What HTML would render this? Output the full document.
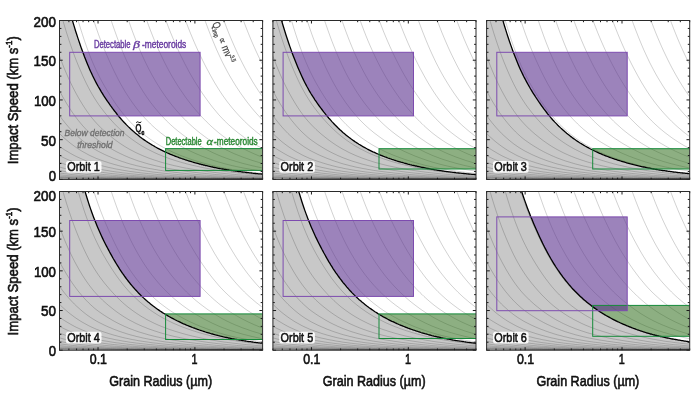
<!DOCTYPE html>
<html><head><meta charset="utf-8"><title>chart</title><style>html,body{margin:0;padding:0;background:#fff}body{width:700px;height:396px;overflow:hidden}</style></head>
<body>
<svg width="700" height="396" viewBox="0 0 700 396" style="display:block;opacity:0.999">
<defs><filter id="gl" x="-20%" y="-40%" width="140%" height="180%"><feGaussianBlur stdDeviation="0.7"/></filter></defs>
<rect width="700" height="396" fill="#fff"/>
<defs><path id="gls" d="M-1.0,-1.3 L1.0,-1.2 L3.0,-1.2 L5.0,-1.1 L7.0,-1.1 L9.0,-1.0 L11.0,-1.0 L13.0,-0.9 L15.0,-0.9 L17.0,-0.9 L19.0,-0.8 L21.0,-0.8 L23.0,-0.7 L25.0,-0.7 L27.0,-0.7 L29.0,-0.7 L31.0,-0.6 L33.0,-0.6 L35.0,-0.6 L37.0,-0.6 L39.0,-0.5 L41.0,-0.5 L43.0,-0.5 L45.0,-0.5 L47.0,-0.5 L49.0,-0.4 L51.0,-0.4 L53.0,-0.4 L55.0,-0.4 L57.0,-0.4 L59.0,-0.4 L61.0,-0.4 L63.0,-0.3 L65.0,-0.3 L67.0,-0.3 L69.0,-0.3 L71.0,-0.3 L73.0,-0.3 L75.0,-0.3 L77.0,-0.3 L79.0,-0.3 L81.0,-0.2 L83.0,-0.2 L85.0,-0.2 L87.0,-0.2 L89.0,-0.2 L91.0,-0.2 L93.0,-0.2 L95.0,-0.2 L97.0,-0.2 L99.0,-0.2 L101.0,-0.2 L103.0,-0.2 L105.0,-0.2 L107.0,-0.2 L109.0,-0.2 L111.0,-0.1 L113.0,-0.1 L115.0,-0.1 L117.0,-0.1 L119.0,-0.1 L121.0,-0.1 L123.0,-0.1 L125.0,-0.1 L127.0,-0.1 L129.0,-0.1 L131.0,-0.1 L133.0,-0.1 L135.0,-0.1 L137.0,-0.1 L139.0,-0.1 L141.0,-0.1 L143.0,-0.1 L145.0,-0.1 L147.0,-0.1 L149.0,-0.1 L151.0,-0.1 L153.0,-0.1 L155.0,-0.1 L157.0,-0.1 L159.0,-0.1 L161.0,-0.1 L163.0,-0.1 L165.0,-0.1 L167.0,-0.1 L169.0,-0.1 L171.0,-0.1 L173.0,-0.1 L175.0,-0.0 L177.0,-0.0 L179.0,-0.0 L181.0,-0.0 L183.0,-0.0 L185.0,-0.0 L187.0,-0.0 L189.0,-0.0 L191.0,-0.0 L193.0,-0.0 L195.0,-0.0 L197.0,-0.0 L199.0,-0.0 L201.0,-0.0 L203.0,-0.0 M-1.0,-1.7 L1.0,-1.7 L3.0,-1.6 L5.0,-1.5 L7.0,-1.5 L9.0,-1.4 L11.0,-1.3 L13.0,-1.3 L15.0,-1.2 L17.0,-1.2 L19.0,-1.1 L21.0,-1.1 L23.0,-1.0 L25.0,-1.0 L27.0,-1.0 L29.0,-0.9 L31.0,-0.9 L33.0,-0.8 L35.0,-0.8 L37.0,-0.8 L39.0,-0.8 L41.0,-0.7 L43.0,-0.7 L45.0,-0.7 L47.0,-0.6 L49.0,-0.6 L51.0,-0.6 L53.0,-0.6 L55.0,-0.6 L57.0,-0.5 L59.0,-0.5 L61.0,-0.5 L63.0,-0.5 L65.0,-0.5 L67.0,-0.4 L69.0,-0.4 L71.0,-0.4 L73.0,-0.4 L75.0,-0.4 L77.0,-0.4 L79.0,-0.4 L81.0,-0.3 L83.0,-0.3 L85.0,-0.3 L87.0,-0.3 L89.0,-0.3 L91.0,-0.3 L93.0,-0.3 L95.0,-0.3 L97.0,-0.3 L99.0,-0.3 L101.0,-0.2 L103.0,-0.2 L105.0,-0.2 L107.0,-0.2 L109.0,-0.2 L111.0,-0.2 L113.0,-0.2 L115.0,-0.2 L117.0,-0.2 L119.0,-0.2 L121.0,-0.2 L123.0,-0.2 L125.0,-0.2 L127.0,-0.2 L129.0,-0.2 L131.0,-0.1 L133.0,-0.1 L135.0,-0.1 L137.0,-0.1 L139.0,-0.1 L141.0,-0.1 L143.0,-0.1 L145.0,-0.1 L147.0,-0.1 L149.0,-0.1 L151.0,-0.1 L153.0,-0.1 L155.0,-0.1 L157.0,-0.1 L159.0,-0.1 L161.0,-0.1 L163.0,-0.1 L165.0,-0.1 L167.0,-0.1 L169.0,-0.1 L171.0,-0.1 L173.0,-0.1 L175.0,-0.1 L177.0,-0.1 L179.0,-0.1 L181.0,-0.1 L183.0,-0.1 L185.0,-0.1 L187.0,-0.1 L189.0,-0.1 L191.0,-0.1 L193.0,-0.1 L195.0,-0.0 L197.0,-0.0 L199.0,-0.0 L201.0,-0.0 L203.0,-0.0 M-1.0,-2.4 L1.0,-2.3 L3.0,-2.2 L5.0,-2.1 L7.0,-2.0 L9.0,-2.0 L11.0,-1.9 L13.0,-1.8 L15.0,-1.7 L17.0,-1.6 L19.0,-1.6 L21.0,-1.5 L23.0,-1.4 L25.0,-1.4 L27.0,-1.3 L29.0,-1.3 L31.0,-1.2 L33.0,-1.2 L35.0,-1.1 L37.0,-1.1 L39.0,-1.0 L41.0,-1.0 L43.0,-1.0 L45.0,-0.9 L47.0,-0.9 L49.0,-0.9 L51.0,-0.8 L53.0,-0.8 L55.0,-0.8 L57.0,-0.7 L59.0,-0.7 L61.0,-0.7 L63.0,-0.7 L65.0,-0.6 L67.0,-0.6 L69.0,-0.6 L71.0,-0.6 L73.0,-0.6 L75.0,-0.5 L77.0,-0.5 L79.0,-0.5 L81.0,-0.5 L83.0,-0.5 L85.0,-0.4 L87.0,-0.4 L89.0,-0.4 L91.0,-0.4 L93.0,-0.4 L95.0,-0.4 L97.0,-0.4 L99.0,-0.3 L101.0,-0.3 L103.0,-0.3 L105.0,-0.3 L107.0,-0.3 L109.0,-0.3 L111.0,-0.3 L113.0,-0.3 L115.0,-0.3 L117.0,-0.3 L119.0,-0.2 L121.0,-0.2 L123.0,-0.2 L125.0,-0.2 L127.0,-0.2 L129.0,-0.2 L131.0,-0.2 L133.0,-0.2 L135.0,-0.2 L137.0,-0.2 L139.0,-0.2 L141.0,-0.2 L143.0,-0.2 L145.0,-0.2 L147.0,-0.2 L149.0,-0.1 L151.0,-0.1 L153.0,-0.1 L155.0,-0.1 L157.0,-0.1 L159.0,-0.1 L161.0,-0.1 L163.0,-0.1 L165.0,-0.1 L167.0,-0.1 L169.0,-0.1 L171.0,-0.1 L173.0,-0.1 L175.0,-0.1 L177.0,-0.1 L179.0,-0.1 L181.0,-0.1 L183.0,-0.1 L185.0,-0.1 L187.0,-0.1 L189.0,-0.1 L191.0,-0.1 L193.0,-0.1 L195.0,-0.1 L197.0,-0.1 L199.0,-0.1 L201.0,-0.1 L203.0,-0.1 M-1.0,-3.4 L1.0,-3.2 L3.0,-3.1 L5.0,-3.0 L7.0,-2.8 L9.0,-2.7 L11.0,-2.6 L13.0,-2.5 L15.0,-2.4 L17.0,-2.3 L19.0,-2.2 L21.0,-2.1 L23.0,-2.0 L25.0,-1.9 L27.0,-1.8 L29.0,-1.8 L31.0,-1.7 L33.0,-1.6 L35.0,-1.6 L37.0,-1.5 L39.0,-1.5 L41.0,-1.4 L43.0,-1.3 L45.0,-1.3 L47.0,-1.2 L49.0,-1.2 L51.0,-1.2 L53.0,-1.1 L55.0,-1.1 L57.0,-1.0 L59.0,-1.0 L61.0,-1.0 L63.0,-0.9 L65.0,-0.9 L67.0,-0.9 L69.0,-0.8 L71.0,-0.8 L73.0,-0.8 L75.0,-0.7 L77.0,-0.7 L79.0,-0.7 L81.0,-0.7 L83.0,-0.6 L85.0,-0.6 L87.0,-0.6 L89.0,-0.6 L91.0,-0.6 L93.0,-0.5 L95.0,-0.5 L97.0,-0.5 L99.0,-0.5 L101.0,-0.5 L103.0,-0.5 L105.0,-0.4 L107.0,-0.4 L109.0,-0.4 L111.0,-0.4 L113.0,-0.4 L115.0,-0.4 L117.0,-0.4 L119.0,-0.3 L121.0,-0.3 L123.0,-0.3 L125.0,-0.3 L127.0,-0.3 L129.0,-0.3 L131.0,-0.3 L133.0,-0.3 L135.0,-0.3 L137.0,-0.3 L139.0,-0.2 L141.0,-0.2 L143.0,-0.2 L145.0,-0.2 L147.0,-0.2 L149.0,-0.2 L151.0,-0.2 L153.0,-0.2 L155.0,-0.2 L157.0,-0.2 L159.0,-0.2 L161.0,-0.2 L163.0,-0.2 L165.0,-0.2 L167.0,-0.2 L169.0,-0.1 L171.0,-0.1 L173.0,-0.1 L175.0,-0.1 L177.0,-0.1 L179.0,-0.1 L181.0,-0.1 L183.0,-0.1 L185.0,-0.1 L187.0,-0.1 L189.0,-0.1 L191.0,-0.1 L193.0,-0.1 L195.0,-0.1 L197.0,-0.1 L199.0,-0.1 L201.0,-0.1 L203.0,-0.1 M-1.0,-4.7 L1.0,-4.5 L3.0,-4.3 L5.0,-4.1 L7.0,-3.9 L9.0,-3.8 L11.0,-3.6 L13.0,-3.5 L15.0,-3.3 L17.0,-3.2 L19.0,-3.0 L21.0,-2.9 L23.0,-2.8 L25.0,-2.7 L27.0,-2.6 L29.0,-2.5 L31.0,-2.4 L33.0,-2.3 L35.0,-2.2 L37.0,-2.1 L39.0,-2.0 L41.0,-1.9 L43.0,-1.9 L45.0,-1.8 L47.0,-1.7 L49.0,-1.7 L51.0,-1.6 L53.0,-1.6 L55.0,-1.5 L57.0,-1.4 L59.0,-1.4 L61.0,-1.3 L63.0,-1.3 L65.0,-1.2 L67.0,-1.2 L69.0,-1.1 L71.0,-1.1 L73.0,-1.1 L75.0,-1.0 L77.0,-1.0 L79.0,-1.0 L81.0,-0.9 L83.0,-0.9 L85.0,-0.9 L87.0,-0.8 L89.0,-0.8 L91.0,-0.8 L93.0,-0.7 L95.0,-0.7 L97.0,-0.7 L99.0,-0.7 L101.0,-0.6 L103.0,-0.6 L105.0,-0.6 L107.0,-0.6 L109.0,-0.6 L111.0,-0.5 L113.0,-0.5 L115.0,-0.5 L117.0,-0.5 L119.0,-0.5 L121.0,-0.5 L123.0,-0.4 L125.0,-0.4 L127.0,-0.4 L129.0,-0.4 L131.0,-0.4 L133.0,-0.4 L135.0,-0.4 L137.0,-0.4 L139.0,-0.3 L141.0,-0.3 L143.0,-0.3 L145.0,-0.3 L147.0,-0.3 L149.0,-0.3 L151.0,-0.3 L153.0,-0.3 L155.0,-0.3 L157.0,-0.3 L159.0,-0.2 L161.0,-0.2 L163.0,-0.2 L165.0,-0.2 L167.0,-0.2 L169.0,-0.2 L171.0,-0.2 L173.0,-0.2 L175.0,-0.2 L177.0,-0.2 L179.0,-0.2 L181.0,-0.2 L183.0,-0.2 L185.0,-0.2 L187.0,-0.2 L189.0,-0.1 L191.0,-0.1 L193.0,-0.1 L195.0,-0.1 L197.0,-0.1 L199.0,-0.1 L201.0,-0.1 L203.0,-0.1 M-1.0,-6.5 L1.0,-6.2 L3.0,-6.0 L5.0,-5.7 L7.0,-5.5 L9.0,-5.2 L11.0,-5.0 L13.0,-4.8 L15.0,-4.6 L17.0,-4.4 L19.0,-4.2 L21.0,-4.1 L23.0,-3.9 L25.0,-3.7 L27.0,-3.6 L29.0,-3.4 L31.0,-3.3 L33.0,-3.1 L35.0,-3.0 L37.0,-2.9 L39.0,-2.8 L41.0,-2.7 L43.0,-2.6 L45.0,-2.5 L47.0,-2.4 L49.0,-2.3 L51.0,-2.2 L53.0,-2.2 L55.0,-2.1 L57.0,-2.0 L59.0,-1.9 L61.0,-1.9 L63.0,-1.8 L65.0,-1.7 L67.0,-1.7 L69.0,-1.6 L71.0,-1.5 L73.0,-1.5 L75.0,-1.4 L77.0,-1.4 L79.0,-1.3 L81.0,-1.3 L83.0,-1.2 L85.0,-1.2 L87.0,-1.1 L89.0,-1.1 L91.0,-1.1 L93.0,-1.0 L95.0,-1.0 L97.0,-1.0 L99.0,-0.9 L101.0,-0.9 L103.0,-0.9 L105.0,-0.8 L107.0,-0.8 L109.0,-0.8 L111.0,-0.8 L113.0,-0.7 L115.0,-0.7 L117.0,-0.7 L119.0,-0.7 L121.0,-0.6 L123.0,-0.6 L125.0,-0.6 L127.0,-0.6 L129.0,-0.6 L131.0,-0.5 L133.0,-0.5 L135.0,-0.5 L137.0,-0.5 L139.0,-0.5 L141.0,-0.5 L143.0,-0.4 L145.0,-0.4 L147.0,-0.4 L149.0,-0.4 L151.0,-0.4 L153.0,-0.4 L155.0,-0.4 L157.0,-0.3 L159.0,-0.3 L161.0,-0.3 L163.0,-0.3 L165.0,-0.3 L167.0,-0.3 L169.0,-0.3 L171.0,-0.3 L173.0,-0.3 L175.0,-0.3 L177.0,-0.2 L179.0,-0.2 L181.0,-0.2 L183.0,-0.2 L185.0,-0.2 L187.0,-0.2 L189.0,-0.2 L191.0,-0.2 L193.0,-0.2 L195.0,-0.2 L197.0,-0.2 L199.0,-0.2 L201.0,-0.2 L203.0,-0.2 M-1.0,-9.1 L1.0,-8.7 L3.0,-8.3 L5.0,-7.9 L7.0,-7.6 L9.0,-7.3 L11.0,-7.0 L13.0,-6.7 L15.0,-6.4 L17.0,-6.1 L19.0,-5.9 L21.0,-5.6 L23.0,-5.4 L25.0,-5.2 L27.0,-5.0 L29.0,-4.7 L31.0,-4.6 L33.0,-4.4 L35.0,-4.2 L37.0,-4.0 L39.0,-3.9 L41.0,-3.7 L43.0,-3.6 L45.0,-3.5 L47.0,-3.3 L49.0,-3.2 L51.0,-3.1 L53.0,-3.0 L55.0,-2.9 L57.0,-2.8 L59.0,-2.7 L61.0,-2.6 L63.0,-2.5 L65.0,-2.4 L67.0,-2.3 L69.0,-2.2 L71.0,-2.1 L73.0,-2.1 L75.0,-2.0 L77.0,-1.9 L79.0,-1.8 L81.0,-1.8 L83.0,-1.7 L85.0,-1.7 L87.0,-1.6 L89.0,-1.5 L91.0,-1.5 L93.0,-1.4 L95.0,-1.4 L97.0,-1.3 L99.0,-1.3 L101.0,-1.3 L103.0,-1.2 L105.0,-1.2 L107.0,-1.1 L109.0,-1.1 L111.0,-1.1 L113.0,-1.0 L115.0,-1.0 L117.0,-1.0 L119.0,-0.9 L121.0,-0.9 L123.0,-0.9 L125.0,-0.8 L127.0,-0.8 L129.0,-0.8 L131.0,-0.8 L133.0,-0.7 L135.0,-0.7 L137.0,-0.7 L139.0,-0.7 L141.0,-0.6 L143.0,-0.6 L145.0,-0.6 L147.0,-0.6 L149.0,-0.6 L151.0,-0.5 L153.0,-0.5 L155.0,-0.5 L157.0,-0.5 L159.0,-0.5 L161.0,-0.5 L163.0,-0.4 L165.0,-0.4 L167.0,-0.4 L169.0,-0.4 L171.0,-0.4 L173.0,-0.4 L175.0,-0.4 L177.0,-0.3 L179.0,-0.3 L181.0,-0.3 L183.0,-0.3 L185.0,-0.3 L187.0,-0.3 L189.0,-0.3 L191.0,-0.3 L193.0,-0.3 L195.0,-0.3 L197.0,-0.2 L199.0,-0.2 L201.0,-0.2 L203.0,-0.2 M-1.0,-12.6 L1.0,-12.1 L3.0,-11.5 L5.0,-11.0 L7.0,-10.6 L9.0,-10.1 L11.0,-9.7 L13.0,-9.3 L15.0,-8.9 L17.0,-8.5 L19.0,-8.2 L21.0,-7.8 L23.0,-7.5 L25.0,-7.2 L27.0,-6.9 L29.0,-6.6 L31.0,-6.3 L33.0,-6.1 L35.0,-5.8 L37.0,-5.6 L39.0,-5.4 L41.0,-5.2 L43.0,-5.0 L45.0,-4.8 L47.0,-4.7 L49.0,-4.5 L51.0,-4.3 L53.0,-4.2 L55.0,-4.0 L57.0,-3.9 L59.0,-3.7 L61.0,-3.6 L63.0,-3.4 L65.0,-3.3 L67.0,-3.2 L69.0,-3.1 L71.0,-3.0 L73.0,-2.9 L75.0,-2.8 L77.0,-2.7 L79.0,-2.6 L81.0,-2.5 L83.0,-2.4 L85.0,-2.3 L87.0,-2.2 L89.0,-2.1 L91.0,-2.1 L93.0,-2.0 L95.0,-1.9 L97.0,-1.9 L99.0,-1.8 L101.0,-1.7 L103.0,-1.7 L105.0,-1.6 L107.0,-1.6 L109.0,-1.5 L111.0,-1.5 L113.0,-1.4 L115.0,-1.4 L117.0,-1.3 L119.0,-1.3 L121.0,-1.2 L123.0,-1.2 L125.0,-1.2 L127.0,-1.1 L129.0,-1.1 L131.0,-1.1 L133.0,-1.0 L135.0,-1.0 L137.0,-1.0 L139.0,-0.9 L141.0,-0.9 L143.0,-0.9 L145.0,-0.8 L147.0,-0.8 L149.0,-0.8 L151.0,-0.7 L153.0,-0.7 L155.0,-0.7 L157.0,-0.7 L159.0,-0.7 L161.0,-0.6 L163.0,-0.6 L165.0,-0.6 L167.0,-0.6 L169.0,-0.5 L171.0,-0.5 L173.0,-0.5 L175.0,-0.5 L177.0,-0.5 L179.0,-0.5 L181.0,-0.4 L183.0,-0.4 L185.0,-0.4 L187.0,-0.4 L189.0,-0.4 L191.0,-0.4 L193.0,-0.4 L195.0,-0.4 L197.0,-0.3 L199.0,-0.3 L201.0,-0.3 L203.0,-0.3 M-1.0,-17.5 L1.0,-16.7 L3.0,-16.0 L5.0,-15.3 L7.0,-14.7 L9.0,-14.1 L11.0,-13.5 L13.0,-12.9 L15.0,-12.4 L17.0,-11.8 L19.0,-11.3 L21.0,-10.9 L23.0,-10.4 L25.0,-10.0 L27.0,-9.6 L29.0,-9.2 L31.0,-8.8 L33.0,-8.4 L35.0,-8.1 L37.0,-7.8 L39.0,-7.5 L41.0,-7.2 L43.0,-7.0 L45.0,-6.7 L47.0,-6.5 L49.0,-6.2 L51.0,-6.0 L53.0,-5.8 L55.0,-5.6 L57.0,-5.4 L59.0,-5.2 L61.0,-5.0 L63.0,-4.8 L65.0,-4.6 L67.0,-4.4 L69.0,-4.3 L71.0,-4.1 L73.0,-4.0 L75.0,-3.8 L77.0,-3.7 L79.0,-3.6 L81.0,-3.4 L83.0,-3.3 L85.0,-3.2 L87.0,-3.1 L89.0,-3.0 L91.0,-2.9 L93.0,-2.8 L95.0,-2.7 L97.0,-2.6 L99.0,-2.5 L101.0,-2.4 L103.0,-2.3 L105.0,-2.3 L107.0,-2.2 L109.0,-2.1 L111.0,-2.0 L113.0,-2.0 L115.0,-1.9 L117.0,-1.8 L119.0,-1.8 L121.0,-1.7 L123.0,-1.7 L125.0,-1.6 L127.0,-1.6 L129.0,-1.5 L131.0,-1.5 L133.0,-1.4 L135.0,-1.4 L137.0,-1.3 L139.0,-1.3 L141.0,-1.2 L143.0,-1.2 L145.0,-1.2 L147.0,-1.1 L149.0,-1.1 L151.0,-1.0 L153.0,-1.0 L155.0,-1.0 L157.0,-0.9 L159.0,-0.9 L161.0,-0.9 L163.0,-0.8 L165.0,-0.8 L167.0,-0.8 L169.0,-0.8 L171.0,-0.7 L173.0,-0.7 L175.0,-0.7 L177.0,-0.7 L179.0,-0.6 L181.0,-0.6 L183.0,-0.6 L185.0,-0.6 L187.0,-0.6 L189.0,-0.5 L191.0,-0.5 L193.0,-0.5 L195.0,-0.5 L197.0,-0.5 L199.0,-0.5 L201.0,-0.4 L203.0,-0.4 M-1.0,-24.3 L1.0,-23.3 L3.0,-22.3 L5.0,-21.3 L7.0,-20.4 L9.0,-19.5 L11.0,-18.7 L13.0,-17.9 L15.0,-17.2 L17.0,-16.4 L19.0,-15.8 L21.0,-15.1 L23.0,-14.5 L25.0,-13.9 L27.0,-13.3 L29.0,-12.7 L31.0,-12.2 L33.0,-11.7 L35.0,-11.3 L37.0,-10.8 L39.0,-10.4 L41.0,-10.1 L43.0,-9.7 L45.0,-9.3 L47.0,-9.0 L49.0,-8.7 L51.0,-8.3 L53.0,-8.0 L55.0,-7.7 L57.0,-7.4 L59.0,-7.2 L61.0,-6.9 L63.0,-6.6 L65.0,-6.4 L67.0,-6.2 L69.0,-5.9 L71.0,-5.7 L73.0,-5.5 L75.0,-5.3 L77.0,-5.1 L79.0,-4.9 L81.0,-4.8 L83.0,-4.6 L85.0,-4.4 L87.0,-4.3 L89.0,-4.1 L91.0,-4.0 L93.0,-3.9 L95.0,-3.7 L97.0,-3.6 L99.0,-3.5 L101.0,-3.4 L103.0,-3.3 L105.0,-3.1 L107.0,-3.0 L109.0,-2.9 L111.0,-2.8 L113.0,-2.7 L115.0,-2.7 L117.0,-2.6 L119.0,-2.5 L121.0,-2.4 L123.0,-2.3 L125.0,-2.2 L127.0,-2.2 L129.0,-2.1 L131.0,-2.0 L133.0,-2.0 L135.0,-1.9 L137.0,-1.8 L139.0,-1.8 L141.0,-1.7 L143.0,-1.7 L145.0,-1.6 L147.0,-1.5 L149.0,-1.5 L151.0,-1.4 L153.0,-1.4 L155.0,-1.3 L157.0,-1.3 L159.0,-1.3 L161.0,-1.2 L163.0,-1.2 L165.0,-1.1 L167.0,-1.1 L169.0,-1.1 L171.0,-1.0 L173.0,-1.0 L175.0,-1.0 L177.0,-0.9 L179.0,-0.9 L181.0,-0.9 L183.0,-0.8 L185.0,-0.8 L187.0,-0.8 L189.0,-0.8 L191.0,-0.7 L193.0,-0.7 L195.0,-0.7 L197.0,-0.7 L199.0,-0.6 L201.0,-0.6 L203.0,-0.6 M-1.0,-33.8 L1.0,-32.3 L3.0,-30.9 L5.0,-29.6 L7.0,-28.4 L9.0,-27.2 L11.0,-26.0 L13.0,-24.9 L15.0,-23.8 L17.0,-22.8 L19.0,-21.9 L21.0,-21.0 L23.0,-20.1 L25.0,-19.3 L27.0,-18.5 L29.0,-17.7 L31.0,-17.0 L33.0,-16.3 L35.0,-15.7 L37.0,-15.1 L39.0,-14.5 L41.0,-14.0 L43.0,-13.5 L45.0,-13.0 L47.0,-12.5 L49.0,-12.0 L51.0,-11.6 L53.0,-11.2 L55.0,-10.7 L57.0,-10.3 L59.0,-10.0 L61.0,-9.6 L63.0,-9.2 L65.0,-8.9 L67.0,-8.6 L69.0,-8.2 L71.0,-7.9 L73.0,-7.7 L75.0,-7.4 L77.0,-7.1 L79.0,-6.9 L81.0,-6.6 L83.0,-6.4 L85.0,-6.2 L87.0,-6.0 L89.0,-5.7 L91.0,-5.6 L93.0,-5.4 L95.0,-5.2 L97.0,-5.0 L99.0,-4.8 L101.0,-4.7 L103.0,-4.5 L105.0,-4.4 L107.0,-4.2 L109.0,-4.1 L111.0,-3.9 L113.0,-3.8 L115.0,-3.7 L117.0,-3.6 L119.0,-3.4 L121.0,-3.3 L123.0,-3.2 L125.0,-3.1 L127.0,-3.0 L129.0,-2.9 L131.0,-2.8 L133.0,-2.7 L135.0,-2.6 L137.0,-2.6 L139.0,-2.5 L141.0,-2.4 L143.0,-2.3 L145.0,-2.2 L147.0,-2.2 L149.0,-2.1 L151.0,-2.0 L153.0,-1.9 L155.0,-1.9 L157.0,-1.8 L159.0,-1.7 L161.0,-1.7 L163.0,-1.6 L165.0,-1.6 L167.0,-1.5 L169.0,-1.5 L171.0,-1.4 L173.0,-1.4 L175.0,-1.3 L177.0,-1.3 L179.0,-1.2 L181.0,-1.2 L183.0,-1.2 L185.0,-1.1 L187.0,-1.1 L189.0,-1.0 L191.0,-1.0 L193.0,-1.0 L195.0,-0.9 L197.0,-0.9 L199.0,-0.9 L201.0,-0.9 L203.0,-0.8 M-1.0,-46.9 L1.0,-44.9 L3.0,-43.0 L5.0,-41.2 L7.0,-39.4 L9.0,-37.7 L11.0,-36.1 L13.0,-34.6 L15.0,-33.1 L17.0,-31.7 L19.0,-30.4 L21.0,-29.1 L23.0,-27.9 L25.0,-26.8 L27.0,-25.7 L29.0,-24.6 L31.0,-23.6 L33.0,-22.7 L35.0,-21.8 L37.0,-20.9 L39.0,-20.2 L41.0,-19.4 L43.0,-18.7 L45.0,-18.0 L47.0,-17.4 L49.0,-16.7 L51.0,-16.1 L53.0,-15.5 L55.0,-14.9 L57.0,-14.4 L59.0,-13.8 L61.0,-13.3 L63.0,-12.8 L65.0,-12.3 L67.0,-11.9 L69.0,-11.5 L71.0,-11.0 L73.0,-10.6 L75.0,-10.3 L77.0,-9.9 L79.0,-9.5 L81.0,-9.2 L83.0,-8.9 L85.0,-8.6 L87.0,-8.3 L89.0,-8.0 L91.0,-7.7 L93.0,-7.4 L95.0,-7.2 L97.0,-7.0 L99.0,-6.7 L101.0,-6.5 L103.0,-6.3 L105.0,-6.1 L107.0,-5.9 L109.0,-5.7 L111.0,-5.5 L113.0,-5.3 L115.0,-5.1 L117.0,-5.0 L119.0,-4.8 L121.0,-4.6 L123.0,-4.5 L125.0,-4.3 L127.0,-4.2 L129.0,-4.1 L131.0,-3.9 L133.0,-3.8 L135.0,-3.7 L137.0,-3.5 L139.0,-3.4 L141.0,-3.3 L143.0,-3.2 L145.0,-3.1 L147.0,-3.0 L149.0,-2.9 L151.0,-2.8 L153.0,-2.7 L155.0,-2.6 L157.0,-2.5 L159.0,-2.4 L161.0,-2.3 L163.0,-2.3 L165.0,-2.2 L167.0,-2.1 L169.0,-2.0 L171.0,-2.0 L173.0,-1.9 L175.0,-1.8 L177.0,-1.8 L179.0,-1.7 L181.0,-1.7 L183.0,-1.6 L185.0,-1.6 L187.0,-1.5 L189.0,-1.5 L191.0,-1.4 L193.0,-1.4 L195.0,-1.3 L197.0,-1.3 L199.0,-1.2 L201.0,-1.2 L203.0,-1.1 M-1.0,-65.2 L1.0,-62.4 L3.0,-59.8 L5.0,-57.2 L7.0,-54.8 L9.0,-52.4 L11.0,-50.2 L13.0,-48.1 L15.0,-46.0 L17.0,-44.1 L19.0,-42.3 L21.0,-40.5 L23.0,-38.8 L25.0,-37.2 L27.0,-35.6 L29.0,-34.2 L31.0,-32.8 L33.0,-31.5 L35.0,-30.3 L37.0,-29.1 L39.0,-28.0 L41.0,-27.0 L43.0,-26.0 L45.0,-25.0 L47.0,-24.1 L49.0,-23.2 L51.0,-22.4 L53.0,-21.5 L55.0,-20.7 L57.0,-20.0 L59.0,-19.2 L61.0,-18.5 L63.0,-17.8 L65.0,-17.2 L67.0,-16.5 L69.0,-15.9 L71.0,-15.3 L73.0,-14.8 L75.0,-14.3 L77.0,-13.7 L79.0,-13.3 L81.0,-12.8 L83.0,-12.3 L85.0,-11.9 L87.0,-11.5 L89.0,-11.1 L91.0,-10.7 L93.0,-10.4 L95.0,-10.0 L97.0,-9.7 L99.0,-9.3 L101.0,-9.0 L103.0,-8.7 L105.0,-8.4 L107.0,-8.1 L109.0,-7.9 L111.0,-7.6 L113.0,-7.4 L115.0,-7.1 L117.0,-6.9 L119.0,-6.7 L121.0,-6.4 L123.0,-6.2 L125.0,-6.0 L127.0,-5.8 L129.0,-5.6 L131.0,-5.4 L133.0,-5.3 L135.0,-5.1 L137.0,-4.9 L139.0,-4.8 L141.0,-4.6 L143.0,-4.4 L145.0,-4.3 L147.0,-4.2 L149.0,-4.0 L151.0,-3.9 L153.0,-3.7 L155.0,-3.6 L157.0,-3.5 L159.0,-3.4 L161.0,-3.3 L163.0,-3.1 L165.0,-3.0 L167.0,-2.9 L169.0,-2.8 L171.0,-2.7 L173.0,-2.7 L175.0,-2.6 L177.0,-2.5 L179.0,-2.4 L181.0,-2.3 L183.0,-2.2 L185.0,-2.2 L187.0,-2.1 L189.0,-2.0 L191.0,-2.0 L193.0,-1.9 L195.0,-1.8 L197.0,-1.8 L199.0,-1.7 L201.0,-1.7 L203.0,-1.6 M-1.0,-90.6 L1.0,-86.7 L3.0,-83.0 L5.0,-79.5 L7.0,-76.1 L9.0,-72.9 L11.0,-69.8 L13.0,-66.8 L15.0,-64.0 L17.0,-61.3 L19.0,-58.7 L21.0,-56.3 L23.0,-53.9 L25.0,-51.7 L27.0,-49.5 L29.0,-47.5 L31.0,-45.6 L33.0,-43.8 L35.0,-42.0 L37.0,-40.4 L39.0,-38.9 L41.0,-37.5 L43.0,-36.1 L45.0,-34.8 L47.0,-33.5 L49.0,-32.3 L51.0,-31.1 L53.0,-29.9 L55.0,-28.8 L57.0,-27.7 L59.0,-26.7 L61.0,-25.7 L63.0,-24.8 L65.0,-23.8 L67.0,-23.0 L69.0,-22.1 L71.0,-21.3 L73.0,-20.6 L75.0,-19.8 L77.0,-19.1 L79.0,-18.4 L81.0,-17.8 L83.0,-17.2 L85.0,-16.6 L87.0,-16.0 L89.0,-15.4 L91.0,-14.9 L93.0,-14.4 L95.0,-13.9 L97.0,-13.4 L99.0,-13.0 L101.0,-12.5 L103.0,-12.1 L105.0,-11.7 L107.0,-11.3 L109.0,-10.9 L111.0,-10.6 L113.0,-10.2 L115.0,-9.9 L117.0,-9.6 L119.0,-9.3 L121.0,-8.9 L123.0,-8.7 L125.0,-8.4 L127.0,-8.1 L129.0,-7.8 L131.0,-7.6 L133.0,-7.3 L135.0,-7.1 L137.0,-6.8 L139.0,-6.6 L141.0,-6.4 L143.0,-6.2 L145.0,-6.0 L147.0,-5.8 L149.0,-5.6 L151.0,-5.4 L153.0,-5.2 L155.0,-5.0 L157.0,-4.8 L159.0,-4.7 L161.0,-4.5 L163.0,-4.4 L165.0,-4.2 L167.0,-4.1 L169.0,-3.9 L171.0,-3.8 L173.0,-3.7 L175.0,-3.6 L177.0,-3.4 L179.0,-3.3 L181.0,-3.2 L183.0,-3.1 L185.0,-3.0 L187.0,-2.9 L189.0,-2.8 L191.0,-2.7 L193.0,-2.6 L195.0,-2.5 L197.0,-2.5 L199.0,-2.4 L201.0,-2.3 L203.0,-2.2 M-1.0,-125.9 L1.0,-120.5 L3.0,-115.4 L5.0,-110.4 L7.0,-105.7 L9.0,-101.2 L11.0,-96.9 L13.0,-92.8 L15.0,-88.9 L17.0,-85.2 L19.0,-81.6 L21.0,-78.2 L23.0,-74.9 L25.0,-71.8 L27.0,-68.8 L29.0,-66.0 L31.0,-63.3 L33.0,-60.8 L35.0,-58.4 L37.0,-56.2 L39.0,-54.1 L41.0,-52.1 L43.0,-50.1 L45.0,-48.3 L47.0,-46.5 L49.0,-44.8 L51.0,-43.2 L53.0,-41.6 L55.0,-40.0 L57.0,-38.5 L59.0,-37.1 L61.0,-35.7 L63.0,-34.4 L65.0,-33.1 L67.0,-31.9 L69.0,-30.7 L71.0,-29.6 L73.0,-28.6 L75.0,-27.5 L77.0,-26.5 L79.0,-25.6 L81.0,-24.7 L83.0,-23.8 L85.0,-23.0 L87.0,-22.2 L89.0,-21.4 L91.0,-20.7 L93.0,-20.0 L95.0,-19.3 L97.0,-18.7 L99.0,-18.0 L101.0,-17.4 L103.0,-16.8 L105.0,-16.3 L107.0,-15.7 L109.0,-15.2 L111.0,-14.7 L113.0,-14.2 L115.0,-13.7 L117.0,-13.3 L119.0,-12.9 L121.0,-12.4 L123.0,-12.0 L125.0,-11.6 L127.0,-11.2 L129.0,-10.9 L131.0,-10.5 L133.0,-10.2 L135.0,-9.8 L137.0,-9.5 L139.0,-9.2 L141.0,-8.9 L143.0,-8.6 L145.0,-8.3 L147.0,-8.0 L149.0,-7.7 L151.0,-7.5 L153.0,-7.2 L155.0,-7.0 L157.0,-6.7 L159.0,-6.5 L161.0,-6.3 L163.0,-6.1 L165.0,-5.9 L167.0,-5.7 L169.0,-5.5 L171.0,-5.3 L173.0,-5.1 L175.0,-5.0 L177.0,-4.8 L179.0,-4.6 L181.0,-4.5 L183.0,-4.3 L185.0,-4.2 L187.0,-4.0 L189.0,-3.9 L191.0,-3.8 L193.0,-3.7 L195.0,-3.5 L197.0,-3.4 L199.0,-3.3 L201.0,-3.2 L203.0,-3.1 M1.0,-167.4 L3.0,-160.3 L5.0,-153.5 L7.0,-146.9 L9.0,-140.7 L11.0,-134.7 L13.0,-129.0 L15.0,-123.5 L17.0,-118.3 L19.0,-113.4 L21.0,-108.7 L23.0,-104.1 L25.0,-99.8 L27.0,-95.6 L29.0,-91.7 L31.0,-88.0 L33.0,-84.5 L35.0,-81.2 L37.0,-78.1 L39.0,-75.1 L41.0,-72.3 L43.0,-69.7 L45.0,-67.1 L47.0,-64.7 L49.0,-62.3 L51.0,-60.0 L53.0,-57.8 L55.0,-55.6 L57.0,-53.6 L59.0,-51.6 L61.0,-49.6 L63.0,-47.8 L65.0,-46.0 L67.0,-44.3 L69.0,-42.7 L71.0,-41.2 L73.0,-39.7 L75.0,-38.3 L77.0,-36.9 L79.0,-35.6 L81.0,-34.3 L83.0,-33.1 L85.0,-32.0 L87.0,-30.8 L89.0,-29.8 L91.0,-28.8 L93.0,-27.8 L95.0,-26.8 L97.0,-25.9 L99.0,-25.0 L101.0,-24.2 L103.0,-23.4 L105.0,-22.6 L107.0,-21.9 L109.0,-21.1 L111.0,-20.4 L113.0,-19.8 L115.0,-19.1 L117.0,-18.5 L119.0,-17.9 L121.0,-17.3 L123.0,-16.7 L125.0,-16.2 L127.0,-15.6 L129.0,-15.1 L131.0,-14.6 L133.0,-14.1 L135.0,-13.7 L137.0,-13.2 L139.0,-12.8 L141.0,-12.3 L143.0,-11.9 L145.0,-11.5 L147.0,-11.1 L149.0,-10.8 L151.0,-10.4 L153.0,-10.0 L155.0,-9.7 L157.0,-9.4 L159.0,-9.0 L161.0,-8.7 L163.0,-8.4 L165.0,-8.1 L167.0,-7.9 L169.0,-7.6 L171.0,-7.4 L173.0,-7.1 L175.0,-6.9 L177.0,-6.7 L179.0,-6.4 L181.0,-6.2 L183.0,-6.0 L185.0,-5.8 L187.0,-5.6 L189.0,-5.4 L191.0,-5.3 L193.0,-5.1 L195.0,-4.9 L197.0,-4.7 L199.0,-4.6 L201.0,-4.4 L203.0,-4.3 M17.0,-164.4 L19.0,-157.6 L21.0,-151.0 L23.0,-144.7 L25.0,-138.6 L27.0,-132.9 L29.0,-127.4 L31.0,-122.3 L33.0,-117.4 L35.0,-112.8 L37.0,-108.5 L39.0,-104.4 L41.0,-100.5 L43.0,-96.8 L45.0,-93.3 L47.0,-89.9 L49.0,-86.6 L51.0,-83.4 L53.0,-80.3 L55.0,-77.3 L57.0,-74.4 L59.0,-71.6 L61.0,-69.0 L63.0,-66.4 L65.0,-63.9 L67.0,-61.6 L69.0,-59.3 L71.0,-57.2 L73.0,-55.1 L75.0,-53.2 L77.0,-51.3 L79.0,-49.4 L81.0,-47.7 L83.0,-46.0 L85.0,-44.4 L87.0,-42.9 L89.0,-41.4 L91.0,-40.0 L93.0,-38.6 L95.0,-37.3 L97.0,-36.0 L99.0,-34.8 L101.0,-33.6 L103.0,-32.5 L105.0,-31.4 L107.0,-30.4 L109.0,-29.4 L111.0,-28.4 L113.0,-27.4 L115.0,-26.5 L117.0,-25.7 L119.0,-24.8 L121.0,-24.0 L123.0,-23.2 L125.0,-22.5 L127.0,-21.7 L129.0,-21.0 L131.0,-20.3 L133.0,-19.6 L135.0,-19.0 L137.0,-18.4 L139.0,-17.7 L141.0,-17.2 L143.0,-16.6 L145.0,-16.0 L147.0,-15.5 L149.0,-15.0 L151.0,-14.4 L153.0,-13.9 L155.0,-13.5 L157.0,-13.0 L159.0,-12.6 L161.0,-12.1 L163.0,-11.7 L165.0,-11.3 L167.0,-10.9 L169.0,-10.6 L171.0,-10.2 L173.0,-9.9 L175.0,-9.6 L177.0,-9.2 L179.0,-8.9 L181.0,-8.6 L183.0,-8.4 L185.0,-8.1 L187.0,-7.8 L189.0,-7.5 L191.0,-7.3 L193.0,-7.1 L195.0,-6.8 L197.0,-6.6 L199.0,-6.4 L201.0,-6.2 L203.0,-6.0 M31.0,-169.9 L33.0,-163.1 L35.0,-156.7 L37.0,-150.7 L39.0,-145.0 L41.0,-139.6 L43.0,-134.5 L45.0,-129.6 L47.0,-124.9 L49.0,-120.3 L51.0,-115.9 L53.0,-111.6 L55.0,-107.4 L57.0,-103.4 L59.0,-99.5 L61.0,-95.8 L63.0,-92.3 L65.0,-88.8 L67.0,-85.6 L69.0,-82.5 L71.0,-79.5 L73.0,-76.6 L75.0,-73.9 L77.0,-71.2 L79.0,-68.7 L81.0,-66.3 L83.0,-63.9 L85.0,-61.7 L87.0,-59.5 L89.0,-57.5 L91.0,-55.5 L93.0,-53.6 L95.0,-51.8 L97.0,-50.0 L99.0,-48.4 L101.0,-46.7 L103.0,-45.2 L105.0,-43.7 L107.0,-42.2 L109.0,-40.8 L111.0,-39.4 L113.0,-38.1 L115.0,-36.9 L117.0,-35.7 L119.0,-34.5 L121.0,-33.4 L123.0,-32.3 L125.0,-31.2 L127.0,-30.2 L129.0,-29.2 L131.0,-28.2 L133.0,-27.3 L135.0,-26.4 L137.0,-25.5 L139.0,-24.7 L141.0,-23.8 L143.0,-23.0 L145.0,-22.3 L147.0,-21.5 L149.0,-20.8 L151.0,-20.1 L153.0,-19.4 L155.0,-18.7 L157.0,-18.1 L159.0,-17.4 L161.0,-16.9 L163.0,-16.3 L165.0,-15.7 L167.0,-15.2 L169.0,-14.7 L171.0,-14.2 L173.0,-13.7 L175.0,-13.3 L177.0,-12.8 L179.0,-12.4 L181.0,-12.0 L183.0,-11.6 L185.0,-11.2 L187.0,-10.9 L189.0,-10.5 L191.0,-10.1 L193.0,-9.8 L195.0,-9.5 L197.0,-9.2 L199.0,-8.9 L201.0,-8.6 L203.0,-8.3 M49.0,-167.2 L51.0,-161.0 L53.0,-155.0 L55.0,-149.3 L57.0,-143.7 L59.0,-138.3 L61.0,-133.2 L63.0,-128.2 L65.0,-123.4 L67.0,-118.9 L69.0,-114.6 L71.0,-110.4 L73.0,-106.4 L75.0,-102.6 L77.0,-99.0 L79.0,-95.4 L81.0,-92.1 L83.0,-88.8 L85.0,-85.7 L87.0,-82.7 L89.0,-79.9 L91.0,-77.1 L93.0,-74.5 L95.0,-72.0 L97.0,-69.5 L99.0,-67.2 L101.0,-64.9 L103.0,-62.8 L105.0,-60.7 L107.0,-58.6 L109.0,-56.7 L111.0,-54.8 L113.0,-53.0 L115.0,-51.2 L117.0,-49.6 L119.0,-47.9 L121.0,-46.4 L123.0,-44.8 L125.0,-43.4 L127.0,-41.9 L129.0,-40.5 L131.0,-39.2 L133.0,-37.9 L135.0,-36.6 L137.0,-35.4 L139.0,-34.3 L141.0,-33.1 L143.0,-32.0 L145.0,-30.9 L147.0,-29.9 L149.0,-28.9 L151.0,-27.9 L153.0,-26.9 L155.0,-26.0 L157.0,-25.1 L159.0,-24.2 L161.0,-23.4 L163.0,-22.6 L165.0,-21.9 L167.0,-21.1 L169.0,-20.4 L171.0,-19.7 L173.0,-19.1 L175.0,-18.5 L177.0,-17.8 L179.0,-17.3 L181.0,-16.7 L183.0,-16.1 L185.0,-15.6 L187.0,-15.1 L189.0,-14.6 L191.0,-14.1 L193.0,-13.6 L195.0,-13.2 L197.0,-12.7 L199.0,-12.3 L201.0,-11.9 L203.0,-11.5 M67.0,-165.2 L69.0,-159.2 L71.0,-153.4 L73.0,-147.9 L75.0,-142.6 L77.0,-137.5 L79.0,-132.6 L81.0,-127.9 L83.0,-123.4 L85.0,-119.1 L87.0,-115.0 L89.0,-111.0 L91.0,-107.2 L93.0,-103.5 L95.0,-100.0 L97.0,-96.6 L99.0,-93.4 L101.0,-90.2 L103.0,-87.2 L105.0,-84.3 L107.0,-81.5 L109.0,-78.8 L111.0,-76.1 L113.0,-73.6 L115.0,-71.2 L117.0,-68.9 L119.0,-66.6 L121.0,-64.4 L123.0,-62.3 L125.0,-60.2 L127.0,-58.2 L129.0,-56.3 L131.0,-54.5 L133.0,-52.7 L135.0,-50.9 L137.0,-49.2 L139.0,-47.6 L141.0,-46.0 L143.0,-44.5 L145.0,-43.0 L147.0,-41.5 L149.0,-40.1 L151.0,-38.8 L153.0,-37.4 L155.0,-36.1 L157.0,-34.9 L159.0,-33.7 L161.0,-32.5 L163.0,-31.4 L165.0,-30.4 L167.0,-29.3 L169.0,-28.4 L171.0,-27.4 L173.0,-26.5 L175.0,-25.6 L177.0,-24.8 L179.0,-24.0 L181.0,-23.2 L183.0,-22.4 L185.0,-21.7 L187.0,-21.0 L189.0,-20.3 L191.0,-19.6 L193.0,-18.9 L195.0,-18.3 L197.0,-17.7 L199.0,-17.1 L201.0,-16.5 L203.0,-16.0 M85.0,-165.5 L87.0,-159.7 L89.0,-154.2 L91.0,-148.9 L93.0,-143.8 L95.0,-138.9 L97.0,-134.2 L99.0,-129.7 L101.0,-125.4 L103.0,-121.2 L105.0,-117.1 L107.0,-113.2 L109.0,-109.4 L111.0,-105.8 L113.0,-102.3 L115.0,-98.9 L117.0,-95.7 L119.0,-92.5 L121.0,-89.5 L123.0,-86.6 L125.0,-83.7 L127.0,-80.9 L129.0,-78.3 L131.0,-75.7 L133.0,-73.2 L135.0,-70.8 L137.0,-68.4 L139.0,-66.2 L141.0,-64.0 L143.0,-61.8 L145.0,-59.7 L147.0,-57.7 L149.0,-55.8 L151.0,-53.8 L153.0,-52.0 L155.0,-50.2 L157.0,-48.5 L159.0,-46.8 L161.0,-45.2 L163.0,-43.7 L165.0,-42.2 L167.0,-40.8 L169.0,-39.4 L171.0,-38.1 L173.0,-36.8 L175.0,-35.6 L177.0,-34.5 L179.0,-33.3 L181.0,-32.2 L183.0,-31.1 L185.0,-30.1 L187.0,-29.1 L189.0,-28.1 L191.0,-27.2 L193.0,-26.3 L195.0,-25.4 L197.0,-24.6 L199.0,-23.7 L201.0,-23.0 L203.0,-22.2 M103.0,-168.4 L105.0,-162.7 L107.0,-157.3 L109.0,-152.1 L111.0,-147.0 L113.0,-142.2 L115.0,-137.5 L117.0,-133.0 L119.0,-128.6 L121.0,-124.4 L123.0,-120.3 L125.0,-116.3 L127.0,-112.5 L129.0,-108.7 L131.0,-105.1 L133.0,-101.7 L135.0,-98.3 L137.0,-95.1 L139.0,-91.9 L141.0,-88.9 L143.0,-85.9 L145.0,-83.0 L147.0,-80.2 L149.0,-77.5 L151.0,-74.8 L153.0,-72.2 L155.0,-69.8 L157.0,-67.4 L159.0,-65.0 L161.0,-62.8 L163.0,-60.7 L165.0,-58.6 L167.0,-56.7 L169.0,-54.8 L171.0,-53.0 L173.0,-51.2 L175.0,-49.5 L177.0,-47.9 L179.0,-46.3 L181.0,-44.8 L183.0,-43.3 L185.0,-41.8 L187.0,-40.4 L189.0,-39.1 L191.0,-37.8 L193.0,-36.5 L195.0,-35.3 L197.0,-34.1 L199.0,-33.0 L201.0,-31.9 L203.0,-30.8 M123.0,-167.1 L125.0,-161.6 L127.0,-156.3 L129.0,-151.1 L131.0,-146.1 L133.0,-141.3 L135.0,-136.6 L137.0,-132.1 L139.0,-127.7 L141.0,-123.5 L143.0,-119.3 L145.0,-115.3 L147.0,-111.4 L149.0,-107.7 L151.0,-104.0 L153.0,-100.4 L155.0,-96.9 L157.0,-93.6 L159.0,-90.4 L161.0,-87.3 L163.0,-84.3 L165.0,-81.5 L167.0,-78.7 L169.0,-76.1 L171.0,-73.6 L173.0,-71.1 L175.0,-68.8 L177.0,-66.5 L179.0,-64.3 L181.0,-62.2 L183.0,-60.1 L185.0,-58.1 L187.0,-56.2 L189.0,-54.3 L191.0,-52.5 L193.0,-50.8 L195.0,-49.1 L197.0,-47.4 L199.0,-45.9 L201.0,-44.3 L203.0,-42.8 M143.0,-165.8 L145.0,-160.3 L147.0,-154.9 L149.0,-149.6 L151.0,-144.5 L153.0,-139.5 L155.0,-134.7 L157.0,-130.0 L159.0,-125.6 L161.0,-121.3 L163.0,-117.1 L165.0,-113.2 L167.0,-109.4 L169.0,-105.7 L171.0,-102.2 L173.0,-98.9 L175.0,-95.6 L177.0,-92.4 L179.0,-89.4 L181.0,-86.4 L183.0,-83.6 L185.0,-80.8 L187.0,-78.1 L189.0,-75.5 L191.0,-73.0 L193.0,-70.5 L195.0,-68.2 L197.0,-65.9 L199.0,-63.7 L201.0,-61.6 L203.0,-59.5 M161.0,-168.5 L163.0,-162.8 L165.0,-157.3 L167.0,-152.0 L169.0,-146.9 L171.0,-142.1 L173.0,-137.4 L175.0,-132.8 L177.0,-128.4 L179.0,-124.2 L181.0,-120.1 L183.0,-116.1 L185.0,-112.2 L187.0,-108.5 L189.0,-104.9 L191.0,-101.4 L193.0,-98.0 L195.0,-94.7 L197.0,-91.6 L199.0,-88.5 L201.0,-85.6 L203.0,-82.7 M181.0,-166.9 L183.0,-161.3 L185.0,-156.0 L187.0,-150.8 L189.0,-145.8 L191.0,-140.9 L193.0,-136.2 L195.0,-131.7 L197.0,-127.3 L199.0,-123.0 L201.0,-118.9 L203.0,-114.9 M201.0,-165.2 L203.0,-159.7" fill="none" stroke="#000" stroke-opacity="0.3" stroke-width="0.6"/></defs>
<clipPath id="c1"><rect x="59.5" y="20.5" width="203.1" height="158.9"/></clipPath>
<clipPath id="a1"><path d="M58.5,-35.8 L59.5,-31.2 L60.5,-26.6 L61.5,-22.2 L62.5,-17.8 L63.5,-13.6 L64.5,-9.4 L65.5,-5.3 L66.5,-1.3 L67.5,2.6 L68.5,6.4 L69.5,10.1 L70.5,13.7 L71.5,17.3 L72.5,20.7 L73.5,24.1 L74.5,27.4 L75.5,30.7 L76.5,33.8 L77.5,36.9 L78.5,39.9 L79.5,42.8 L80.5,45.7 L81.5,48.6 L82.5,51.3 L83.5,54.0 L84.5,56.7 L85.5,59.2 L86.5,61.7 L87.5,64.2 L88.5,66.6 L89.5,68.9 L90.5,71.2 L91.5,73.3 L92.5,75.5 L93.5,77.5 L94.5,79.5 L95.5,81.5 L96.5,83.4 L97.5,85.2 L98.5,87.0 L99.5,88.7 L100.5,90.4 L101.5,92.1 L102.5,93.7 L103.5,95.3 L104.5,96.8 L105.5,98.3 L106.5,99.8 L107.5,101.3 L108.5,102.7 L109.5,104.2 L110.5,105.6 L111.5,106.9 L112.5,108.3 L113.5,109.6 L114.5,111.0 L115.5,112.2 L116.5,113.5 L117.5,114.8 L118.5,116.0 L119.5,117.2 L120.5,118.3 L121.5,119.5 L122.5,120.6 L123.5,121.7 L124.5,122.8 L125.5,123.8 L126.5,124.9 L127.5,125.9 L128.5,126.9 L129.5,127.8 L130.5,128.8 L131.5,129.7 L132.5,130.6 L133.5,131.5 L134.5,132.3 L135.5,133.2 L136.5,134.0 L137.5,134.8 L138.5,135.6 L139.5,136.4 L140.5,137.2 L141.5,137.9 L142.5,138.7 L143.5,139.4 L144.5,140.1 L145.5,140.8 L146.5,141.5 L147.5,142.1 L148.5,142.8 L149.5,143.4 L150.5,144.0 L151.5,144.6 L152.5,145.2 L153.5,145.8 L154.5,146.4 L155.5,147.0 L156.5,147.5 L157.5,148.1 L158.5,148.6 L159.5,149.1 L160.5,149.6 L161.5,150.1 L162.5,150.6 L163.5,151.1 L164.5,151.6 L165.5,152.1 L166.5,152.5 L167.5,153.0 L168.5,153.4 L169.5,153.8 L170.5,154.3 L171.5,154.7 L172.5,155.1 L173.5,155.5 L174.5,155.9 L175.5,156.3 L176.5,156.7 L177.5,157.0 L178.5,157.4 L179.5,157.8 L180.5,158.1 L181.5,158.5 L182.5,158.8 L183.5,159.2 L184.5,159.5 L185.5,159.9 L186.5,160.2 L187.5,160.5 L188.5,160.8 L189.5,161.1 L190.5,161.4 L191.5,161.7 L192.5,162.0 L193.5,162.3 L194.5,162.6 L195.5,162.9 L196.5,163.1 L197.5,163.4 L198.5,163.7 L199.5,164.0 L200.5,164.2 L201.5,164.5 L202.5,164.7 L203.5,165.0 L204.5,165.2 L205.5,165.5 L206.5,165.7 L207.5,165.9 L208.5,166.2 L209.5,166.4 L210.5,166.6 L211.5,166.8 L212.5,167.0 L213.5,167.3 L214.5,167.5 L215.5,167.7 L216.5,167.9 L217.5,168.1 L218.5,168.3 L219.5,168.5 L220.5,168.7 L221.5,168.8 L222.5,169.0 L223.5,169.2 L224.5,169.4 L225.5,169.5 L226.5,169.7 L227.5,169.9 L228.5,170.0 L229.5,170.2 L230.5,170.3 L231.5,170.5 L232.5,170.6 L233.5,170.8 L234.5,170.9 L235.5,171.1 L236.5,171.2 L237.5,171.4 L238.5,171.5 L239.5,171.6 L240.5,171.7 L241.5,171.9 L242.5,172.0 L243.5,172.1 L244.5,172.2 L245.5,172.4 L246.5,172.5 L247.5,172.6 L248.5,172.7 L249.5,172.8 L250.5,172.9 L251.5,173.0 L252.5,173.2 L253.5,173.3 L254.5,173.4 L255.5,173.5 L256.5,173.6 L257.5,173.7 L258.5,173.8 L259.5,173.9 L260.5,173.9 L261.5,174.0 L262.5,174.1 L263.5,174.2 L264.6,-429.5 Z"/></clipPath>
<g clip-path="url(#c1)">
<use href="#gls" transform="translate(59.5,179.4)"/>
<path d="M58.5,-35.8 L59.5,-31.2 L60.5,-26.6 L61.5,-22.2 L62.5,-17.8 L63.5,-13.6 L64.5,-9.4 L65.5,-5.3 L66.5,-1.3 L67.5,2.6 L68.5,6.4 L69.5,10.1 L70.5,13.7 L71.5,17.3 L72.5,20.7 L73.5,24.1 L74.5,27.4 L75.5,30.7 L76.5,33.8 L77.5,36.9 L78.5,39.9 L79.5,42.8 L80.5,45.7 L81.5,48.6 L82.5,51.3 L83.5,54.0 L84.5,56.7 L85.5,59.2 L86.5,61.7 L87.5,64.2 L88.5,66.6 L89.5,68.9 L90.5,71.2 L91.5,73.3 L92.5,75.5 L93.5,77.5 L94.5,79.5 L95.5,81.5 L96.5,83.4 L97.5,85.2 L98.5,87.0 L99.5,88.7 L100.5,90.4 L101.5,92.1 L102.5,93.7 L103.5,95.3 L104.5,96.8 L105.5,98.3 L106.5,99.8 L107.5,101.3 L108.5,102.7 L109.5,104.2 L110.5,105.6 L111.5,106.9 L112.5,108.3 L113.5,109.6 L114.5,111.0 L115.5,112.2 L116.5,113.5 L117.5,114.8 L118.5,116.0 L119.5,117.2 L120.5,118.3 L121.5,119.5 L122.5,120.6 L123.5,121.7 L124.5,122.8 L125.5,123.8 L126.5,124.9 L127.5,125.9 L128.5,126.9 L129.5,127.8 L130.5,128.8 L131.5,129.7 L132.5,130.6 L133.5,131.5 L134.5,132.3 L135.5,133.2 L136.5,134.0 L137.5,134.8 L138.5,135.6 L139.5,136.4 L140.5,137.2 L141.5,137.9 L142.5,138.7 L143.5,139.4 L144.5,140.1 L145.5,140.8 L146.5,141.5 L147.5,142.1 L148.5,142.8 L149.5,143.4 L150.5,144.0 L151.5,144.6 L152.5,145.2 L153.5,145.8 L154.5,146.4 L155.5,147.0 L156.5,147.5 L157.5,148.1 L158.5,148.6 L159.5,149.1 L160.5,149.6 L161.5,150.1 L162.5,150.6 L163.5,151.1 L164.5,151.6 L165.5,152.1 L166.5,152.5 L167.5,153.0 L168.5,153.4 L169.5,153.8 L170.5,154.3 L171.5,154.7 L172.5,155.1 L173.5,155.5 L174.5,155.9 L175.5,156.3 L176.5,156.7 L177.5,157.0 L178.5,157.4 L179.5,157.8 L180.5,158.1 L181.5,158.5 L182.5,158.8 L183.5,159.2 L184.5,159.5 L185.5,159.9 L186.5,160.2 L187.5,160.5 L188.5,160.8 L189.5,161.1 L190.5,161.4 L191.5,161.7 L192.5,162.0 L193.5,162.3 L194.5,162.6 L195.5,162.9 L196.5,163.1 L197.5,163.4 L198.5,163.7 L199.5,164.0 L200.5,164.2 L201.5,164.5 L202.5,164.7 L203.5,165.0 L204.5,165.2 L205.5,165.5 L206.5,165.7 L207.5,165.9 L208.5,166.2 L209.5,166.4 L210.5,166.6 L211.5,166.8 L212.5,167.0 L213.5,167.3 L214.5,167.5 L215.5,167.7 L216.5,167.9 L217.5,168.1 L218.5,168.3 L219.5,168.5 L220.5,168.7 L221.5,168.8 L222.5,169.0 L223.5,169.2 L224.5,169.4 L225.5,169.5 L226.5,169.7 L227.5,169.9 L228.5,170.0 L229.5,170.2 L230.5,170.3 L231.5,170.5 L232.5,170.6 L233.5,170.8 L234.5,170.9 L235.5,171.1 L236.5,171.2 L237.5,171.4 L238.5,171.5 L239.5,171.6 L240.5,171.7 L241.5,171.9 L242.5,172.0 L243.5,172.1 L244.5,172.2 L245.5,172.4 L246.5,172.5 L247.5,172.6 L248.5,172.7 L249.5,172.8 L250.5,172.9 L251.5,173.0 L252.5,173.2 L253.5,173.3 L254.5,173.4 L255.5,173.5 L256.5,173.6 L257.5,173.7 L258.5,173.8 L259.5,173.9 L260.5,173.9 L261.5,174.0 L262.5,174.1 L263.5,174.2 L264.6,184.4 L57.5,184.4 L57.5,-429.5 Z" fill="#000" fill-opacity="0.215"/>
<g clip-path="url(#a1)">
<rect x="165.6" y="148.6" width="100.0" height="21.8" fill="rgb(27,95,5)" fill-opacity="0.5"/>
<rect x="69.7" y="52.3" width="130.4" height="63.6" fill="rgb(90,48,142)" fill-opacity="0.6"/>
</g>
<path d="M58.5,-35.8 L59.5,-31.2 L60.5,-26.6 L61.5,-22.2 L62.5,-17.8 L63.5,-13.6 L64.5,-9.4 L65.5,-5.3 L66.5,-1.3 L67.5,2.6 L68.5,6.4 L69.5,10.1 L70.5,13.7 L71.5,17.3 L72.5,20.7 L73.5,24.1 L74.5,27.4 L75.5,30.7 L76.5,33.8 L77.5,36.9 L78.5,39.9 L79.5,42.8 L80.5,45.7 L81.5,48.6 L82.5,51.3 L83.5,54.0 L84.5,56.7 L85.5,59.2 L86.5,61.7 L87.5,64.2 L88.5,66.6 L89.5,68.9 L90.5,71.2 L91.5,73.3 L92.5,75.5 L93.5,77.5 L94.5,79.5 L95.5,81.5 L96.5,83.4 L97.5,85.2 L98.5,87.0 L99.5,88.7 L100.5,90.4 L101.5,92.1 L102.5,93.7 L103.5,95.3 L104.5,96.8 L105.5,98.3 L106.5,99.8 L107.5,101.3 L108.5,102.7 L109.5,104.2 L110.5,105.6 L111.5,106.9 L112.5,108.3 L113.5,109.6 L114.5,111.0 L115.5,112.2 L116.5,113.5 L117.5,114.8 L118.5,116.0 L119.5,117.2 L120.5,118.3 L121.5,119.5 L122.5,120.6 L123.5,121.7 L124.5,122.8 L125.5,123.8 L126.5,124.9 L127.5,125.9 L128.5,126.9 L129.5,127.8 L130.5,128.8 L131.5,129.7 L132.5,130.6 L133.5,131.5 L134.5,132.3 L135.5,133.2 L136.5,134.0 L137.5,134.8 L138.5,135.6 L139.5,136.4 L140.5,137.2 L141.5,137.9 L142.5,138.7 L143.5,139.4 L144.5,140.1 L145.5,140.8 L146.5,141.5 L147.5,142.1 L148.5,142.8 L149.5,143.4 L150.5,144.0 L151.5,144.6 L152.5,145.2 L153.5,145.8 L154.5,146.4 L155.5,147.0 L156.5,147.5 L157.5,148.1 L158.5,148.6 L159.5,149.1 L160.5,149.6 L161.5,150.1 L162.5,150.6 L163.5,151.1 L164.5,151.6 L165.5,152.1 L166.5,152.5 L167.5,153.0 L168.5,153.4 L169.5,153.8 L170.5,154.3 L171.5,154.7 L172.5,155.1 L173.5,155.5 L174.5,155.9 L175.5,156.3 L176.5,156.7 L177.5,157.0 L178.5,157.4 L179.5,157.8 L180.5,158.1 L181.5,158.5 L182.5,158.8 L183.5,159.2 L184.5,159.5 L185.5,159.9 L186.5,160.2 L187.5,160.5 L188.5,160.8 L189.5,161.1 L190.5,161.4 L191.5,161.7 L192.5,162.0 L193.5,162.3 L194.5,162.6 L195.5,162.9 L196.5,163.1 L197.5,163.4 L198.5,163.7 L199.5,164.0 L200.5,164.2 L201.5,164.5 L202.5,164.7 L203.5,165.0 L204.5,165.2 L205.5,165.5 L206.5,165.7 L207.5,165.9 L208.5,166.2 L209.5,166.4 L210.5,166.6 L211.5,166.8 L212.5,167.0 L213.5,167.3 L214.5,167.5 L215.5,167.7 L216.5,167.9 L217.5,168.1 L218.5,168.3 L219.5,168.5 L220.5,168.7 L221.5,168.8 L222.5,169.0 L223.5,169.2 L224.5,169.4 L225.5,169.5 L226.5,169.7 L227.5,169.9 L228.5,170.0 L229.5,170.2 L230.5,170.3 L231.5,170.5 L232.5,170.6 L233.5,170.8 L234.5,170.9 L235.5,171.1 L236.5,171.2 L237.5,171.4 L238.5,171.5 L239.5,171.6 L240.5,171.7 L241.5,171.9 L242.5,172.0 L243.5,172.1 L244.5,172.2 L245.5,172.4 L246.5,172.5 L247.5,172.6 L248.5,172.7 L249.5,172.8 L250.5,172.9 L251.5,173.0 L252.5,173.2 L253.5,173.3 L254.5,173.4 L255.5,173.5 L256.5,173.6 L257.5,173.7 L258.5,173.8 L259.5,173.9 L260.5,173.9 L261.5,174.0 L262.5,174.1 L263.5,174.2" fill="none" stroke="#000" stroke-width="1.3"/>
<rect x="165.6" y="148.6" width="100.0" height="21.8" fill="none" stroke="rgb(22,138,58)" stroke-width="1"/>
<rect x="69.7" y="52.3" width="130.4" height="63.6" fill="none" stroke="rgb(125,75,175)" stroke-width="1"/>
</g>
<path d="M59.5,179.40h3.2 M262.6,179.40h-3.2 M59.5,171.46h1.9 M262.6,171.46h-1.9 M59.5,163.51h1.9 M262.6,163.51h-1.9 M59.5,155.56h1.9 M262.6,155.56h-1.9 M59.5,147.62h1.9 M262.6,147.62h-1.9 M59.5,139.68h3.2 M262.6,139.68h-3.2 M59.5,131.73h1.9 M262.6,131.73h-1.9 M59.5,123.78h1.9 M262.6,123.78h-1.9 M59.5,115.84h1.9 M262.6,115.84h-1.9 M59.5,107.90h1.9 M262.6,107.90h-1.9 M59.5,99.95h3.2 M262.6,99.95h-3.2 M59.5,92.01h1.9 M262.6,92.01h-1.9 M59.5,84.06h1.9 M262.6,84.06h-1.9 M59.5,76.12h1.9 M262.6,76.12h-1.9 M59.5,68.17h1.9 M262.6,68.17h-1.9 M59.5,60.23h3.2 M262.6,60.23h-3.2 M59.5,52.28h1.9 M262.6,52.28h-1.9 M59.5,44.34h1.9 M262.6,44.34h-1.9 M59.5,36.39h1.9 M262.6,36.39h-1.9 M59.5,28.45h1.9 M262.6,28.45h-1.9 M59.5,20.50h3.2 M262.6,20.50h-3.2 M59.50,179.4v-1.7 M59.50,20.5v1.7 M68.89,179.4v-1.7 M68.89,20.5v1.7 M76.56,179.4v-1.7 M76.56,20.5v1.7 M83.04,179.4v-1.7 M83.04,20.5v1.7 M88.66,179.4v-1.7 M88.66,20.5v1.7 M93.61,179.4v-1.7 M93.61,20.5v1.7 M98.04,179.4v-3.0 M98.04,20.5v3.0 M127.20,179.4v-1.7 M127.20,20.5v1.7 M144.26,179.4v-1.7 M144.26,20.5v1.7 M156.36,179.4v-1.7 M156.36,20.5v1.7 M165.74,179.4v-1.7 M165.74,20.5v1.7 M173.41,179.4v-1.7 M173.41,20.5v1.7 M179.90,179.4v-1.7 M179.90,20.5v1.7 M185.51,179.4v-1.7 M185.51,20.5v1.7 M190.47,179.4v-1.7 M190.47,20.5v1.7 M194.90,179.4v-3.0 M194.90,20.5v3.0 M224.06,179.4v-1.7 M224.06,20.5v1.7 M241.11,179.4v-1.7 M241.11,20.5v1.7 M253.21,179.4v-1.7 M253.21,20.5v1.7 M262.60,179.4v-1.7 M262.60,20.5v1.7" stroke="#1a1a1a" stroke-width="1" fill="none"/>
<rect x="59.5" y="20.5" width="203.1" height="158.9" fill="none" stroke="#2a2a2a" stroke-width="1"/>
<rect x="65.9" y="160.9" width="35.6" height="11.8" rx="2.5" fill="#fff" fill-opacity="0.9" filter="url(#gl)"/>
<text x="67.2" y="171.2" font-family="Liberation Sans, sans-serif" font-size="13.6" textLength="32.6" lengthAdjust="spacingAndGlyphs" fill="#fff" stroke="#fff" stroke-width="1.8" stroke-linejoin="round">Orbit 1</text>
<text x="67.2" y="171.2" font-family="Liberation Sans, sans-serif" font-size="13.6" textLength="32.6" lengthAdjust="spacingAndGlyphs" fill="#111" stroke="#111" stroke-width="0.6">Orbit 1</text>
<clipPath id="c2"><rect x="272.9" y="20.5" width="203.1" height="158.9"/></clipPath>
<clipPath id="a2"><path d="M271.9,-16.9 L272.9,-12.6 L273.9,-8.5 L274.9,-4.4 L275.9,-0.4 L276.9,3.4 L277.9,7.2 L278.9,10.9 L279.9,14.6 L280.9,18.1 L281.9,21.6 L282.9,25.0 L283.9,28.3 L284.9,31.5 L285.9,34.7 L286.9,37.8 L287.9,40.8 L288.9,43.8 L289.9,46.6 L290.9,49.4 L291.9,52.2 L292.9,54.9 L293.9,57.5 L294.9,60.1 L295.9,62.6 L296.9,65.1 L297.9,67.5 L298.9,69.8 L299.9,72.1 L300.9,74.3 L301.9,76.5 L302.9,78.6 L303.9,80.7 L304.9,82.7 L305.9,84.6 L306.9,86.5 L307.9,88.3 L308.9,90.1 L309.9,91.8 L310.9,93.5 L311.9,95.1 L312.9,96.7 L313.9,98.2 L314.9,99.8 L315.9,101.2 L316.9,102.7 L317.9,104.1 L318.9,105.5 L319.9,106.8 L320.9,108.2 L321.9,109.5 L322.9,110.8 L323.9,112.1 L324.9,113.3 L325.9,114.6 L326.9,115.8 L327.9,117.0 L328.9,118.2 L329.9,119.3 L330.9,120.4 L331.9,121.6 L332.9,122.6 L333.9,123.7 L334.9,124.8 L335.9,125.8 L336.9,126.8 L337.9,127.8 L338.9,128.7 L339.9,129.7 L340.9,130.6 L341.9,131.5 L342.9,132.4 L343.9,133.2 L344.9,134.1 L345.9,134.9 L346.9,135.7 L347.9,136.5 L348.9,137.3 L349.9,138.0 L350.9,138.8 L351.9,139.5 L352.9,140.2 L353.9,140.9 L354.9,141.6 L355.9,142.2 L356.9,142.9 L357.9,143.5 L358.9,144.2 L359.9,144.8 L360.9,145.4 L361.9,146.0 L362.9,146.6 L363.9,147.1 L364.9,147.7 L365.9,148.2 L366.9,148.8 L367.9,149.3 L368.9,149.8 L369.9,150.3 L370.9,150.8 L371.9,151.3 L372.9,151.8 L373.9,152.2 L374.9,152.7 L375.9,153.2 L376.9,153.6 L377.9,154.0 L378.9,154.5 L379.9,154.9 L380.9,155.3 L381.9,155.7 L382.9,156.1 L383.9,156.5 L384.9,156.9 L385.9,157.2 L386.9,157.6 L387.9,158.0 L388.9,158.3 L389.9,158.7 L390.9,159.0 L391.9,159.4 L392.9,159.7 L393.9,160.0 L394.9,160.3 L395.9,160.7 L396.9,161.0 L397.9,161.3 L398.9,161.6 L399.9,161.9 L400.9,162.2 L401.9,162.4 L402.9,162.7 L403.9,163.0 L404.9,163.3 L405.9,163.5 L406.9,163.8 L407.9,164.1 L408.9,164.3 L409.9,164.6 L410.9,164.8 L411.9,165.1 L412.9,165.3 L413.9,165.5 L414.9,165.8 L415.9,166.0 L416.9,166.2 L417.9,166.5 L418.9,166.7 L419.9,166.9 L420.9,167.1 L421.9,167.3 L422.9,167.5 L423.9,167.7 L424.9,167.9 L425.9,168.1 L426.9,168.3 L427.9,168.5 L428.9,168.7 L429.9,168.9 L430.9,169.1 L431.9,169.3 L432.9,169.4 L433.9,169.6 L434.9,169.8 L435.9,169.9 L436.9,170.1 L437.9,170.3 L438.9,170.4 L439.9,170.6 L440.9,170.7 L441.9,170.9 L442.9,171.0 L443.9,171.1 L444.9,171.3 L445.9,171.4 L446.9,171.6 L447.9,171.7 L448.9,171.8 L449.9,171.9 L450.9,172.1 L451.9,172.2 L452.9,172.3 L453.9,172.4 L454.9,172.5 L455.9,172.7 L456.9,172.8 L457.9,172.9 L458.9,173.0 L459.9,173.1 L460.9,173.2 L461.9,173.3 L462.9,173.4 L463.9,173.5 L464.9,173.6 L465.9,173.7 L466.9,173.8 L467.9,173.9 L468.9,174.0 L469.9,174.1 L470.9,174.2 L471.9,174.3 L472.9,174.3 L473.9,174.4 L474.9,174.5 L475.9,174.6 L476.9,174.7 L478.0,-429.5 Z"/></clipPath>
<g clip-path="url(#c2)">
<use href="#gls" transform="translate(272.9,179.4)"/>
<path d="M271.9,-16.9 L272.9,-12.6 L273.9,-8.5 L274.9,-4.4 L275.9,-0.4 L276.9,3.4 L277.9,7.2 L278.9,10.9 L279.9,14.6 L280.9,18.1 L281.9,21.6 L282.9,25.0 L283.9,28.3 L284.9,31.5 L285.9,34.7 L286.9,37.8 L287.9,40.8 L288.9,43.8 L289.9,46.6 L290.9,49.4 L291.9,52.2 L292.9,54.9 L293.9,57.5 L294.9,60.1 L295.9,62.6 L296.9,65.1 L297.9,67.5 L298.9,69.8 L299.9,72.1 L300.9,74.3 L301.9,76.5 L302.9,78.6 L303.9,80.7 L304.9,82.7 L305.9,84.6 L306.9,86.5 L307.9,88.3 L308.9,90.1 L309.9,91.8 L310.9,93.5 L311.9,95.1 L312.9,96.7 L313.9,98.2 L314.9,99.8 L315.9,101.2 L316.9,102.7 L317.9,104.1 L318.9,105.5 L319.9,106.8 L320.9,108.2 L321.9,109.5 L322.9,110.8 L323.9,112.1 L324.9,113.3 L325.9,114.6 L326.9,115.8 L327.9,117.0 L328.9,118.2 L329.9,119.3 L330.9,120.4 L331.9,121.6 L332.9,122.6 L333.9,123.7 L334.9,124.8 L335.9,125.8 L336.9,126.8 L337.9,127.8 L338.9,128.7 L339.9,129.7 L340.9,130.6 L341.9,131.5 L342.9,132.4 L343.9,133.2 L344.9,134.1 L345.9,134.9 L346.9,135.7 L347.9,136.5 L348.9,137.3 L349.9,138.0 L350.9,138.8 L351.9,139.5 L352.9,140.2 L353.9,140.9 L354.9,141.6 L355.9,142.2 L356.9,142.9 L357.9,143.5 L358.9,144.2 L359.9,144.8 L360.9,145.4 L361.9,146.0 L362.9,146.6 L363.9,147.1 L364.9,147.7 L365.9,148.2 L366.9,148.8 L367.9,149.3 L368.9,149.8 L369.9,150.3 L370.9,150.8 L371.9,151.3 L372.9,151.8 L373.9,152.2 L374.9,152.7 L375.9,153.2 L376.9,153.6 L377.9,154.0 L378.9,154.5 L379.9,154.9 L380.9,155.3 L381.9,155.7 L382.9,156.1 L383.9,156.5 L384.9,156.9 L385.9,157.2 L386.9,157.6 L387.9,158.0 L388.9,158.3 L389.9,158.7 L390.9,159.0 L391.9,159.4 L392.9,159.7 L393.9,160.0 L394.9,160.3 L395.9,160.7 L396.9,161.0 L397.9,161.3 L398.9,161.6 L399.9,161.9 L400.9,162.2 L401.9,162.4 L402.9,162.7 L403.9,163.0 L404.9,163.3 L405.9,163.5 L406.9,163.8 L407.9,164.1 L408.9,164.3 L409.9,164.6 L410.9,164.8 L411.9,165.1 L412.9,165.3 L413.9,165.5 L414.9,165.8 L415.9,166.0 L416.9,166.2 L417.9,166.5 L418.9,166.7 L419.9,166.9 L420.9,167.1 L421.9,167.3 L422.9,167.5 L423.9,167.7 L424.9,167.9 L425.9,168.1 L426.9,168.3 L427.9,168.5 L428.9,168.7 L429.9,168.9 L430.9,169.1 L431.9,169.3 L432.9,169.4 L433.9,169.6 L434.9,169.8 L435.9,169.9 L436.9,170.1 L437.9,170.3 L438.9,170.4 L439.9,170.6 L440.9,170.7 L441.9,170.9 L442.9,171.0 L443.9,171.1 L444.9,171.3 L445.9,171.4 L446.9,171.6 L447.9,171.7 L448.9,171.8 L449.9,171.9 L450.9,172.1 L451.9,172.2 L452.9,172.3 L453.9,172.4 L454.9,172.5 L455.9,172.7 L456.9,172.8 L457.9,172.9 L458.9,173.0 L459.9,173.1 L460.9,173.2 L461.9,173.3 L462.9,173.4 L463.9,173.5 L464.9,173.6 L465.9,173.7 L466.9,173.8 L467.9,173.9 L468.9,174.0 L469.9,174.1 L470.9,174.2 L471.9,174.3 L472.9,174.3 L473.9,174.4 L474.9,174.5 L475.9,174.6 L476.9,174.7 L478.0,184.4 L270.9,184.4 L270.9,-429.5 Z" fill="#000" fill-opacity="0.215"/>
<g clip-path="url(#a2)">
<rect x="379.0" y="148.7" width="100.0" height="20.3" fill="rgb(27,95,5)" fill-opacity="0.5"/>
<rect x="283.1" y="52.3" width="130.4" height="63.6" fill="rgb(90,48,142)" fill-opacity="0.6"/>
</g>
<path d="M271.9,-16.9 L272.9,-12.6 L273.9,-8.5 L274.9,-4.4 L275.9,-0.4 L276.9,3.4 L277.9,7.2 L278.9,10.9 L279.9,14.6 L280.9,18.1 L281.9,21.6 L282.9,25.0 L283.9,28.3 L284.9,31.5 L285.9,34.7 L286.9,37.8 L287.9,40.8 L288.9,43.8 L289.9,46.6 L290.9,49.4 L291.9,52.2 L292.9,54.9 L293.9,57.5 L294.9,60.1 L295.9,62.6 L296.9,65.1 L297.9,67.5 L298.9,69.8 L299.9,72.1 L300.9,74.3 L301.9,76.5 L302.9,78.6 L303.9,80.7 L304.9,82.7 L305.9,84.6 L306.9,86.5 L307.9,88.3 L308.9,90.1 L309.9,91.8 L310.9,93.5 L311.9,95.1 L312.9,96.7 L313.9,98.2 L314.9,99.8 L315.9,101.2 L316.9,102.7 L317.9,104.1 L318.9,105.5 L319.9,106.8 L320.9,108.2 L321.9,109.5 L322.9,110.8 L323.9,112.1 L324.9,113.3 L325.9,114.6 L326.9,115.8 L327.9,117.0 L328.9,118.2 L329.9,119.3 L330.9,120.4 L331.9,121.6 L332.9,122.6 L333.9,123.7 L334.9,124.8 L335.9,125.8 L336.9,126.8 L337.9,127.8 L338.9,128.7 L339.9,129.7 L340.9,130.6 L341.9,131.5 L342.9,132.4 L343.9,133.2 L344.9,134.1 L345.9,134.9 L346.9,135.7 L347.9,136.5 L348.9,137.3 L349.9,138.0 L350.9,138.8 L351.9,139.5 L352.9,140.2 L353.9,140.9 L354.9,141.6 L355.9,142.2 L356.9,142.9 L357.9,143.5 L358.9,144.2 L359.9,144.8 L360.9,145.4 L361.9,146.0 L362.9,146.6 L363.9,147.1 L364.9,147.7 L365.9,148.2 L366.9,148.8 L367.9,149.3 L368.9,149.8 L369.9,150.3 L370.9,150.8 L371.9,151.3 L372.9,151.8 L373.9,152.2 L374.9,152.7 L375.9,153.2 L376.9,153.6 L377.9,154.0 L378.9,154.5 L379.9,154.9 L380.9,155.3 L381.9,155.7 L382.9,156.1 L383.9,156.5 L384.9,156.9 L385.9,157.2 L386.9,157.6 L387.9,158.0 L388.9,158.3 L389.9,158.7 L390.9,159.0 L391.9,159.4 L392.9,159.7 L393.9,160.0 L394.9,160.3 L395.9,160.7 L396.9,161.0 L397.9,161.3 L398.9,161.6 L399.9,161.9 L400.9,162.2 L401.9,162.4 L402.9,162.7 L403.9,163.0 L404.9,163.3 L405.9,163.5 L406.9,163.8 L407.9,164.1 L408.9,164.3 L409.9,164.6 L410.9,164.8 L411.9,165.1 L412.9,165.3 L413.9,165.5 L414.9,165.8 L415.9,166.0 L416.9,166.2 L417.9,166.5 L418.9,166.7 L419.9,166.9 L420.9,167.1 L421.9,167.3 L422.9,167.5 L423.9,167.7 L424.9,167.9 L425.9,168.1 L426.9,168.3 L427.9,168.5 L428.9,168.7 L429.9,168.9 L430.9,169.1 L431.9,169.3 L432.9,169.4 L433.9,169.6 L434.9,169.8 L435.9,169.9 L436.9,170.1 L437.9,170.3 L438.9,170.4 L439.9,170.6 L440.9,170.7 L441.9,170.9 L442.9,171.0 L443.9,171.1 L444.9,171.3 L445.9,171.4 L446.9,171.6 L447.9,171.7 L448.9,171.8 L449.9,171.9 L450.9,172.1 L451.9,172.2 L452.9,172.3 L453.9,172.4 L454.9,172.5 L455.9,172.7 L456.9,172.8 L457.9,172.9 L458.9,173.0 L459.9,173.1 L460.9,173.2 L461.9,173.3 L462.9,173.4 L463.9,173.5 L464.9,173.6 L465.9,173.7 L466.9,173.8 L467.9,173.9 L468.9,174.0 L469.9,174.1 L470.9,174.2 L471.9,174.3 L472.9,174.3 L473.9,174.4 L474.9,174.5 L475.9,174.6 L476.9,174.7" fill="none" stroke="#000" stroke-width="1.3"/>
<rect x="379.0" y="148.7" width="100.0" height="20.3" fill="none" stroke="rgb(22,138,58)" stroke-width="1"/>
<rect x="283.1" y="52.3" width="130.4" height="63.6" fill="none" stroke="rgb(125,75,175)" stroke-width="1"/>
</g>
<path d="M272.9,179.40h3.2 M476.0,179.40h-3.2 M272.9,171.46h1.9 M476.0,171.46h-1.9 M272.9,163.51h1.9 M476.0,163.51h-1.9 M272.9,155.56h1.9 M476.0,155.56h-1.9 M272.9,147.62h1.9 M476.0,147.62h-1.9 M272.9,139.68h3.2 M476.0,139.68h-3.2 M272.9,131.73h1.9 M476.0,131.73h-1.9 M272.9,123.78h1.9 M476.0,123.78h-1.9 M272.9,115.84h1.9 M476.0,115.84h-1.9 M272.9,107.90h1.9 M476.0,107.90h-1.9 M272.9,99.95h3.2 M476.0,99.95h-3.2 M272.9,92.01h1.9 M476.0,92.01h-1.9 M272.9,84.06h1.9 M476.0,84.06h-1.9 M272.9,76.12h1.9 M476.0,76.12h-1.9 M272.9,68.17h1.9 M476.0,68.17h-1.9 M272.9,60.23h3.2 M476.0,60.23h-3.2 M272.9,52.28h1.9 M476.0,52.28h-1.9 M272.9,44.34h1.9 M476.0,44.34h-1.9 M272.9,36.39h1.9 M476.0,36.39h-1.9 M272.9,28.45h1.9 M476.0,28.45h-1.9 M272.9,20.50h3.2 M476.0,20.50h-3.2 M272.90,179.4v-1.7 M272.90,20.5v1.7 M282.29,179.4v-1.7 M282.29,20.5v1.7 M289.96,179.4v-1.7 M289.96,20.5v1.7 M296.44,179.4v-1.7 M296.44,20.5v1.7 M302.06,179.4v-1.7 M302.06,20.5v1.7 M307.01,179.4v-1.7 M307.01,20.5v1.7 M311.44,179.4v-3.0 M311.44,20.5v3.0 M340.60,179.4v-1.7 M340.60,20.5v1.7 M357.66,179.4v-1.7 M357.66,20.5v1.7 M369.76,179.4v-1.7 M369.76,20.5v1.7 M379.14,179.4v-1.7 M379.14,20.5v1.7 M386.81,179.4v-1.7 M386.81,20.5v1.7 M393.30,179.4v-1.7 M393.30,20.5v1.7 M398.91,179.4v-1.7 M398.91,20.5v1.7 M403.87,179.4v-1.7 M403.87,20.5v1.7 M408.30,179.4v-3.0 M408.30,20.5v3.0 M437.46,179.4v-1.7 M437.46,20.5v1.7 M454.51,179.4v-1.7 M454.51,20.5v1.7 M466.61,179.4v-1.7 M466.61,20.5v1.7 M476.00,179.4v-1.7 M476.00,20.5v1.7" stroke="#1a1a1a" stroke-width="1" fill="none"/>
<rect x="272.9" y="20.5" width="203.1" height="158.9" fill="none" stroke="#2a2a2a" stroke-width="1"/>
<rect x="279.3" y="160.9" width="35.6" height="11.8" rx="2.5" fill="#fff" fill-opacity="0.9" filter="url(#gl)"/>
<text x="280.6" y="171.2" font-family="Liberation Sans, sans-serif" font-size="13.6" textLength="32.6" lengthAdjust="spacingAndGlyphs" fill="#fff" stroke="#fff" stroke-width="1.8" stroke-linejoin="round">Orbit 2</text>
<text x="280.6" y="171.2" font-family="Liberation Sans, sans-serif" font-size="13.6" textLength="32.6" lengthAdjust="spacingAndGlyphs" fill="#111" stroke="#111" stroke-width="0.6">Orbit 2</text>
<clipPath id="c3"><rect x="486.6" y="20.5" width="203.1" height="158.9"/></clipPath>
<clipPath id="a3"><path d="M485.6,-52.0 L486.6,-47.0 L487.6,-42.1 L488.6,-37.3 L489.6,-32.6 L490.6,-28.0 L491.6,-23.6 L492.6,-19.2 L493.6,-14.9 L494.6,-10.7 L495.6,-6.6 L496.6,-2.6 L497.6,1.3 L498.6,5.1 L499.6,8.8 L500.6,12.5 L501.6,16.0 L502.6,19.5 L503.6,22.9 L504.6,26.2 L505.6,29.4 L506.6,32.6 L507.6,35.7 L508.6,38.7 L509.6,41.7 L510.6,44.6 L511.6,47.4 L512.6,50.2 L513.6,52.9 L514.6,55.5 L515.6,58.1 L516.6,60.6 L517.6,63.0 L518.6,65.4 L519.6,67.7 L520.6,69.9 L521.6,72.0 L522.6,74.1 L523.6,76.2 L524.6,78.1 L525.6,80.0 L526.6,81.9 L527.6,83.7 L528.6,85.5 L529.6,87.3 L530.6,89.0 L531.6,90.6 L532.6,92.3 L533.6,93.9 L534.6,95.4 L535.6,97.0 L536.6,98.5 L537.6,100.0 L538.6,101.5 L539.6,103.0 L540.6,104.4 L541.6,105.8 L542.6,107.2 L543.6,108.6 L544.6,109.9 L545.6,111.2 L546.6,112.5 L547.6,113.8 L548.6,115.0 L549.6,116.2 L550.6,117.4 L551.6,118.5 L552.6,119.7 L553.6,120.8 L554.6,121.9 L555.6,122.9 L556.6,123.9 L557.6,125.0 L558.6,126.0 L559.6,126.9 L560.6,127.9 L561.6,128.8 L562.6,129.7 L563.6,130.6 L564.6,131.5 L565.6,132.3 L566.6,133.2 L567.6,134.0 L568.6,134.8 L569.6,135.6 L570.6,136.4 L571.6,137.1 L572.6,137.9 L573.6,138.6 L574.6,139.3 L575.6,140.0 L576.6,140.7 L577.6,141.4 L578.6,142.0 L579.6,142.7 L580.6,143.3 L581.6,143.9 L582.6,144.5 L583.6,145.1 L584.6,145.7 L585.6,146.3 L586.6,146.8 L587.6,147.4 L588.6,147.9 L589.6,148.5 L590.6,149.0 L591.6,149.5 L592.6,150.0 L593.6,150.5 L594.6,151.0 L595.6,151.5 L596.6,151.9 L597.6,152.4 L598.6,152.8 L599.6,153.3 L600.6,153.7 L601.6,154.1 L602.6,154.6 L603.6,155.0 L604.6,155.4 L605.6,155.8 L606.6,156.2 L607.6,156.5 L608.6,156.9 L609.6,157.3 L610.6,157.7 L611.6,158.0 L612.6,158.4 L613.6,158.7 L614.6,159.1 L615.6,159.4 L616.6,159.7 L617.6,160.1 L618.6,160.4 L619.6,160.7 L620.6,161.0 L621.6,161.3 L622.6,161.6 L623.6,161.9 L624.6,162.2 L625.6,162.5 L626.6,162.8 L627.6,163.1 L628.6,163.3 L629.6,163.6 L630.6,163.9 L631.6,164.1 L632.6,164.4 L633.6,164.7 L634.6,164.9 L635.6,165.2 L636.6,165.4 L637.6,165.6 L638.6,165.9 L639.6,166.1 L640.6,166.4 L641.6,166.6 L642.6,166.8 L643.6,167.0 L644.6,167.2 L645.6,167.4 L646.6,167.7 L647.6,167.9 L648.6,168.1 L649.6,168.2 L650.6,168.4 L651.6,168.6 L652.6,168.8 L653.6,169.0 L654.6,169.2 L655.6,169.3 L656.6,169.5 L657.6,169.7 L658.6,169.8 L659.6,170.0 L660.6,170.1 L661.6,170.3 L662.6,170.5 L663.6,170.6 L664.6,170.7 L665.6,170.9 L666.6,171.0 L667.6,171.2 L668.6,171.3 L669.6,171.4 L670.6,171.6 L671.6,171.7 L672.6,171.8 L673.6,172.0 L674.6,172.1 L675.6,172.2 L676.6,172.3 L677.6,172.5 L678.6,172.6 L679.6,172.7 L680.6,172.8 L681.6,172.9 L682.6,173.0 L683.6,173.1 L684.6,173.2 L685.6,173.3 L686.6,173.4 L687.6,173.5 L688.6,173.6 L689.6,173.7 L690.6,173.8 L691.7,-429.5 Z"/></clipPath>
<g clip-path="url(#c3)">
<use href="#gls" transform="translate(486.6,179.4)"/>
<path d="M485.6,-52.0 L486.6,-47.0 L487.6,-42.1 L488.6,-37.3 L489.6,-32.6 L490.6,-28.0 L491.6,-23.6 L492.6,-19.2 L493.6,-14.9 L494.6,-10.7 L495.6,-6.6 L496.6,-2.6 L497.6,1.3 L498.6,5.1 L499.6,8.8 L500.6,12.5 L501.6,16.0 L502.6,19.5 L503.6,22.9 L504.6,26.2 L505.6,29.4 L506.6,32.6 L507.6,35.7 L508.6,38.7 L509.6,41.7 L510.6,44.6 L511.6,47.4 L512.6,50.2 L513.6,52.9 L514.6,55.5 L515.6,58.1 L516.6,60.6 L517.6,63.0 L518.6,65.4 L519.6,67.7 L520.6,69.9 L521.6,72.0 L522.6,74.1 L523.6,76.2 L524.6,78.1 L525.6,80.0 L526.6,81.9 L527.6,83.7 L528.6,85.5 L529.6,87.3 L530.6,89.0 L531.6,90.6 L532.6,92.3 L533.6,93.9 L534.6,95.4 L535.6,97.0 L536.6,98.5 L537.6,100.0 L538.6,101.5 L539.6,103.0 L540.6,104.4 L541.6,105.8 L542.6,107.2 L543.6,108.6 L544.6,109.9 L545.6,111.2 L546.6,112.5 L547.6,113.8 L548.6,115.0 L549.6,116.2 L550.6,117.4 L551.6,118.5 L552.6,119.7 L553.6,120.8 L554.6,121.9 L555.6,122.9 L556.6,123.9 L557.6,125.0 L558.6,126.0 L559.6,126.9 L560.6,127.9 L561.6,128.8 L562.6,129.7 L563.6,130.6 L564.6,131.5 L565.6,132.3 L566.6,133.2 L567.6,134.0 L568.6,134.8 L569.6,135.6 L570.6,136.4 L571.6,137.1 L572.6,137.9 L573.6,138.6 L574.6,139.3 L575.6,140.0 L576.6,140.7 L577.6,141.4 L578.6,142.0 L579.6,142.7 L580.6,143.3 L581.6,143.9 L582.6,144.5 L583.6,145.1 L584.6,145.7 L585.6,146.3 L586.6,146.8 L587.6,147.4 L588.6,147.9 L589.6,148.5 L590.6,149.0 L591.6,149.5 L592.6,150.0 L593.6,150.5 L594.6,151.0 L595.6,151.5 L596.6,151.9 L597.6,152.4 L598.6,152.8 L599.6,153.3 L600.6,153.7 L601.6,154.1 L602.6,154.6 L603.6,155.0 L604.6,155.4 L605.6,155.8 L606.6,156.2 L607.6,156.5 L608.6,156.9 L609.6,157.3 L610.6,157.7 L611.6,158.0 L612.6,158.4 L613.6,158.7 L614.6,159.1 L615.6,159.4 L616.6,159.7 L617.6,160.1 L618.6,160.4 L619.6,160.7 L620.6,161.0 L621.6,161.3 L622.6,161.6 L623.6,161.9 L624.6,162.2 L625.6,162.5 L626.6,162.8 L627.6,163.1 L628.6,163.3 L629.6,163.6 L630.6,163.9 L631.6,164.1 L632.6,164.4 L633.6,164.7 L634.6,164.9 L635.6,165.2 L636.6,165.4 L637.6,165.6 L638.6,165.9 L639.6,166.1 L640.6,166.4 L641.6,166.6 L642.6,166.8 L643.6,167.0 L644.6,167.2 L645.6,167.4 L646.6,167.7 L647.6,167.9 L648.6,168.1 L649.6,168.2 L650.6,168.4 L651.6,168.6 L652.6,168.8 L653.6,169.0 L654.6,169.2 L655.6,169.3 L656.6,169.5 L657.6,169.7 L658.6,169.8 L659.6,170.0 L660.6,170.1 L661.6,170.3 L662.6,170.5 L663.6,170.6 L664.6,170.7 L665.6,170.9 L666.6,171.0 L667.6,171.2 L668.6,171.3 L669.6,171.4 L670.6,171.6 L671.6,171.7 L672.6,171.8 L673.6,172.0 L674.6,172.1 L675.6,172.2 L676.6,172.3 L677.6,172.5 L678.6,172.6 L679.6,172.7 L680.6,172.8 L681.6,172.9 L682.6,173.0 L683.6,173.1 L684.6,173.2 L685.6,173.3 L686.6,173.4 L687.6,173.5 L688.6,173.6 L689.6,173.7 L690.6,173.8 L691.7,184.4 L484.6,184.4 L484.6,-429.5 Z" fill="#000" fill-opacity="0.215"/>
<g clip-path="url(#a3)">
<rect x="592.7" y="148.7" width="100.0" height="20.3" fill="rgb(27,95,5)" fill-opacity="0.5"/>
<rect x="496.8" y="52.3" width="130.4" height="63.6" fill="rgb(90,48,142)" fill-opacity="0.6"/>
</g>
<path d="M485.6,-52.0 L486.6,-47.0 L487.6,-42.1 L488.6,-37.3 L489.6,-32.6 L490.6,-28.0 L491.6,-23.6 L492.6,-19.2 L493.6,-14.9 L494.6,-10.7 L495.6,-6.6 L496.6,-2.6 L497.6,1.3 L498.6,5.1 L499.6,8.8 L500.6,12.5 L501.6,16.0 L502.6,19.5 L503.6,22.9 L504.6,26.2 L505.6,29.4 L506.6,32.6 L507.6,35.7 L508.6,38.7 L509.6,41.7 L510.6,44.6 L511.6,47.4 L512.6,50.2 L513.6,52.9 L514.6,55.5 L515.6,58.1 L516.6,60.6 L517.6,63.0 L518.6,65.4 L519.6,67.7 L520.6,69.9 L521.6,72.0 L522.6,74.1 L523.6,76.2 L524.6,78.1 L525.6,80.0 L526.6,81.9 L527.6,83.7 L528.6,85.5 L529.6,87.3 L530.6,89.0 L531.6,90.6 L532.6,92.3 L533.6,93.9 L534.6,95.4 L535.6,97.0 L536.6,98.5 L537.6,100.0 L538.6,101.5 L539.6,103.0 L540.6,104.4 L541.6,105.8 L542.6,107.2 L543.6,108.6 L544.6,109.9 L545.6,111.2 L546.6,112.5 L547.6,113.8 L548.6,115.0 L549.6,116.2 L550.6,117.4 L551.6,118.5 L552.6,119.7 L553.6,120.8 L554.6,121.9 L555.6,122.9 L556.6,123.9 L557.6,125.0 L558.6,126.0 L559.6,126.9 L560.6,127.9 L561.6,128.8 L562.6,129.7 L563.6,130.6 L564.6,131.5 L565.6,132.3 L566.6,133.2 L567.6,134.0 L568.6,134.8 L569.6,135.6 L570.6,136.4 L571.6,137.1 L572.6,137.9 L573.6,138.6 L574.6,139.3 L575.6,140.0 L576.6,140.7 L577.6,141.4 L578.6,142.0 L579.6,142.7 L580.6,143.3 L581.6,143.9 L582.6,144.5 L583.6,145.1 L584.6,145.7 L585.6,146.3 L586.6,146.8 L587.6,147.4 L588.6,147.9 L589.6,148.5 L590.6,149.0 L591.6,149.5 L592.6,150.0 L593.6,150.5 L594.6,151.0 L595.6,151.5 L596.6,151.9 L597.6,152.4 L598.6,152.8 L599.6,153.3 L600.6,153.7 L601.6,154.1 L602.6,154.6 L603.6,155.0 L604.6,155.4 L605.6,155.8 L606.6,156.2 L607.6,156.5 L608.6,156.9 L609.6,157.3 L610.6,157.7 L611.6,158.0 L612.6,158.4 L613.6,158.7 L614.6,159.1 L615.6,159.4 L616.6,159.7 L617.6,160.1 L618.6,160.4 L619.6,160.7 L620.6,161.0 L621.6,161.3 L622.6,161.6 L623.6,161.9 L624.6,162.2 L625.6,162.5 L626.6,162.8 L627.6,163.1 L628.6,163.3 L629.6,163.6 L630.6,163.9 L631.6,164.1 L632.6,164.4 L633.6,164.7 L634.6,164.9 L635.6,165.2 L636.6,165.4 L637.6,165.6 L638.6,165.9 L639.6,166.1 L640.6,166.4 L641.6,166.6 L642.6,166.8 L643.6,167.0 L644.6,167.2 L645.6,167.4 L646.6,167.7 L647.6,167.9 L648.6,168.1 L649.6,168.2 L650.6,168.4 L651.6,168.6 L652.6,168.8 L653.6,169.0 L654.6,169.2 L655.6,169.3 L656.6,169.5 L657.6,169.7 L658.6,169.8 L659.6,170.0 L660.6,170.1 L661.6,170.3 L662.6,170.5 L663.6,170.6 L664.6,170.7 L665.6,170.9 L666.6,171.0 L667.6,171.2 L668.6,171.3 L669.6,171.4 L670.6,171.6 L671.6,171.7 L672.6,171.8 L673.6,172.0 L674.6,172.1 L675.6,172.2 L676.6,172.3 L677.6,172.5 L678.6,172.6 L679.6,172.7 L680.6,172.8 L681.6,172.9 L682.6,173.0 L683.6,173.1 L684.6,173.2 L685.6,173.3 L686.6,173.4 L687.6,173.5 L688.6,173.6 L689.6,173.7 L690.6,173.8" fill="none" stroke="#000" stroke-width="1.3"/>
<rect x="592.7" y="148.7" width="100.0" height="20.3" fill="none" stroke="rgb(22,138,58)" stroke-width="1"/>
<rect x="496.8" y="52.3" width="130.4" height="63.6" fill="none" stroke="rgb(125,75,175)" stroke-width="1"/>
</g>
<path d="M486.6,179.40h3.2 M689.7,179.40h-3.2 M486.6,171.46h1.9 M689.7,171.46h-1.9 M486.6,163.51h1.9 M689.7,163.51h-1.9 M486.6,155.56h1.9 M689.7,155.56h-1.9 M486.6,147.62h1.9 M689.7,147.62h-1.9 M486.6,139.68h3.2 M689.7,139.68h-3.2 M486.6,131.73h1.9 M689.7,131.73h-1.9 M486.6,123.78h1.9 M689.7,123.78h-1.9 M486.6,115.84h1.9 M689.7,115.84h-1.9 M486.6,107.90h1.9 M689.7,107.90h-1.9 M486.6,99.95h3.2 M689.7,99.95h-3.2 M486.6,92.01h1.9 M689.7,92.01h-1.9 M486.6,84.06h1.9 M689.7,84.06h-1.9 M486.6,76.12h1.9 M689.7,76.12h-1.9 M486.6,68.17h1.9 M689.7,68.17h-1.9 M486.6,60.23h3.2 M689.7,60.23h-3.2 M486.6,52.28h1.9 M689.7,52.28h-1.9 M486.6,44.34h1.9 M689.7,44.34h-1.9 M486.6,36.39h1.9 M689.7,36.39h-1.9 M486.6,28.45h1.9 M689.7,28.45h-1.9 M486.6,20.50h3.2 M689.7,20.50h-3.2 M486.60,179.4v-1.7 M486.60,20.5v1.7 M495.99,179.4v-1.7 M495.99,20.5v1.7 M503.66,179.4v-1.7 M503.66,20.5v1.7 M510.14,179.4v-1.7 M510.14,20.5v1.7 M515.76,179.4v-1.7 M515.76,20.5v1.7 M520.71,179.4v-1.7 M520.71,20.5v1.7 M525.14,179.4v-3.0 M525.14,20.5v3.0 M554.30,179.4v-1.7 M554.30,20.5v1.7 M571.36,179.4v-1.7 M571.36,20.5v1.7 M583.46,179.4v-1.7 M583.46,20.5v1.7 M592.84,179.4v-1.7 M592.84,20.5v1.7 M600.51,179.4v-1.7 M600.51,20.5v1.7 M607.00,179.4v-1.7 M607.00,20.5v1.7 M612.61,179.4v-1.7 M612.61,20.5v1.7 M617.57,179.4v-1.7 M617.57,20.5v1.7 M622.00,179.4v-3.0 M622.00,20.5v3.0 M651.16,179.4v-1.7 M651.16,20.5v1.7 M668.21,179.4v-1.7 M668.21,20.5v1.7 M680.31,179.4v-1.7 M680.31,20.5v1.7 M689.70,179.4v-1.7 M689.70,20.5v1.7" stroke="#1a1a1a" stroke-width="1" fill="none"/>
<rect x="486.6" y="20.5" width="203.1" height="158.9" fill="none" stroke="#2a2a2a" stroke-width="1"/>
<rect x="493.0" y="160.9" width="35.6" height="11.8" rx="2.5" fill="#fff" fill-opacity="0.9" filter="url(#gl)"/>
<text x="494.3" y="171.2" font-family="Liberation Sans, sans-serif" font-size="13.6" textLength="32.6" lengthAdjust="spacingAndGlyphs" fill="#fff" stroke="#fff" stroke-width="1.8" stroke-linejoin="round">Orbit 3</text>
<text x="494.3" y="171.2" font-family="Liberation Sans, sans-serif" font-size="13.6" textLength="32.6" lengthAdjust="spacingAndGlyphs" fill="#111" stroke="#111" stroke-width="0.6">Orbit 3</text>
<clipPath id="c4"><rect x="59.5" y="191.5" width="203.1" height="158.7"/></clipPath>
<clipPath id="a4"><path d="M58.5,68.7 L59.5,74.8 L60.5,80.8 L61.5,86.6 L62.5,92.3 L63.5,97.8 L64.5,103.3 L65.5,108.6 L66.5,113.8 L67.5,118.9 L68.5,123.9 L69.5,128.7 L70.5,133.5 L71.5,138.1 L72.5,142.7 L73.5,147.1 L74.5,151.4 L75.5,155.7 L76.5,159.8 L77.5,163.8 L78.5,167.7 L79.5,171.6 L80.5,175.4 L81.5,179.1 L82.5,182.7 L83.5,186.2 L84.5,189.7 L85.5,193.0 L86.5,196.3 L87.5,199.5 L88.5,202.6 L89.5,205.7 L90.5,208.6 L91.5,211.5 L92.5,214.3 L93.5,217.0 L94.5,219.6 L95.5,222.1 L96.5,224.6 L97.5,227.0 L98.5,229.3 L99.5,231.6 L100.5,233.8 L101.5,236.0 L102.5,238.1 L103.5,240.2 L104.5,242.2 L105.5,244.2 L106.5,246.1 L107.5,248.0 L108.5,249.9 L109.5,251.8 L110.5,253.6 L111.5,255.4 L112.5,257.2 L113.5,259.0 L114.5,260.7 L115.5,262.4 L116.5,264.0 L117.5,265.6 L118.5,267.2 L119.5,268.8 L120.5,270.3 L121.5,271.8 L122.5,273.3 L123.5,274.7 L124.5,276.2 L125.5,277.5 L126.5,278.9 L127.5,280.2 L128.5,281.5 L129.5,282.7 L130.5,284.0 L131.5,285.2 L132.5,286.4 L133.5,287.5 L134.5,288.6 L135.5,289.8 L136.5,290.8 L137.5,291.9 L138.5,293.0 L139.5,294.0 L140.5,295.0 L141.5,296.0 L142.5,296.9 L143.5,297.9 L144.5,298.8 L145.5,299.7 L146.5,300.6 L147.5,301.4 L148.5,302.3 L149.5,303.1 L150.5,303.9 L151.5,304.7 L152.5,305.5 L153.5,306.3 L154.5,307.0 L155.5,307.8 L156.5,308.5 L157.5,309.2 L158.5,309.9 L159.5,310.6 L160.5,311.3 L161.5,311.9 L162.5,312.6 L163.5,313.2 L164.5,313.8 L165.5,314.4 L166.5,315.0 L167.5,315.6 L168.5,316.2 L169.5,316.8 L170.5,317.3 L171.5,317.9 L172.5,318.4 L173.5,318.9 L174.5,319.5 L175.5,320.0 L176.5,320.5 L177.5,321.0 L178.5,321.4 L179.5,321.9 L180.5,322.4 L181.5,322.9 L182.5,323.3 L183.5,323.8 L184.5,324.2 L185.5,324.6 L186.5,325.1 L187.5,325.5 L188.5,325.9 L189.5,326.3 L190.5,326.7 L191.5,327.1 L192.5,327.5 L193.5,327.8 L194.5,328.2 L195.5,328.6 L196.5,328.9 L197.5,329.3 L198.5,329.6 L199.5,330.0 L200.5,330.3 L201.5,330.7 L202.5,331.0 L203.5,331.3 L204.5,331.6 L205.5,332.0 L206.5,332.3 L207.5,332.6 L208.5,332.9 L209.5,333.2 L210.5,333.5 L211.5,333.8 L212.5,334.0 L213.5,334.3 L214.5,334.6 L215.5,334.9 L216.5,335.1 L217.5,335.4 L218.5,335.7 L219.5,335.9 L220.5,336.2 L221.5,336.4 L222.5,336.6 L223.5,336.9 L224.5,337.1 L225.5,337.3 L226.5,337.5 L227.5,337.7 L228.5,338.0 L229.5,338.2 L230.5,338.4 L231.5,338.6 L232.5,338.8 L233.5,338.9 L234.5,339.1 L235.5,339.3 L236.5,339.5 L237.5,339.7 L238.5,339.8 L239.5,340.0 L240.5,340.2 L241.5,340.4 L242.5,340.5 L243.5,340.7 L244.5,340.8 L245.5,341.0 L246.5,341.2 L247.5,341.3 L248.5,341.5 L249.5,341.6 L250.5,341.7 L251.5,341.9 L252.5,342.0 L253.5,342.2 L254.5,342.3 L255.5,342.4 L256.5,342.6 L257.5,342.7 L258.5,342.8 L259.5,342.9 L260.5,343.1 L261.5,343.2 L262.5,343.3 L263.5,343.4 L264.6,-258.5 Z"/></clipPath>
<g clip-path="url(#c4)">
<use href="#gls" transform="translate(59.5,350.2)"/>
<path d="M58.5,68.7 L59.5,74.8 L60.5,80.8 L61.5,86.6 L62.5,92.3 L63.5,97.8 L64.5,103.3 L65.5,108.6 L66.5,113.8 L67.5,118.9 L68.5,123.9 L69.5,128.7 L70.5,133.5 L71.5,138.1 L72.5,142.7 L73.5,147.1 L74.5,151.4 L75.5,155.7 L76.5,159.8 L77.5,163.8 L78.5,167.7 L79.5,171.6 L80.5,175.4 L81.5,179.1 L82.5,182.7 L83.5,186.2 L84.5,189.7 L85.5,193.0 L86.5,196.3 L87.5,199.5 L88.5,202.6 L89.5,205.7 L90.5,208.6 L91.5,211.5 L92.5,214.3 L93.5,217.0 L94.5,219.6 L95.5,222.1 L96.5,224.6 L97.5,227.0 L98.5,229.3 L99.5,231.6 L100.5,233.8 L101.5,236.0 L102.5,238.1 L103.5,240.2 L104.5,242.2 L105.5,244.2 L106.5,246.1 L107.5,248.0 L108.5,249.9 L109.5,251.8 L110.5,253.6 L111.5,255.4 L112.5,257.2 L113.5,259.0 L114.5,260.7 L115.5,262.4 L116.5,264.0 L117.5,265.6 L118.5,267.2 L119.5,268.8 L120.5,270.3 L121.5,271.8 L122.5,273.3 L123.5,274.7 L124.5,276.2 L125.5,277.5 L126.5,278.9 L127.5,280.2 L128.5,281.5 L129.5,282.7 L130.5,284.0 L131.5,285.2 L132.5,286.4 L133.5,287.5 L134.5,288.6 L135.5,289.8 L136.5,290.8 L137.5,291.9 L138.5,293.0 L139.5,294.0 L140.5,295.0 L141.5,296.0 L142.5,296.9 L143.5,297.9 L144.5,298.8 L145.5,299.7 L146.5,300.6 L147.5,301.4 L148.5,302.3 L149.5,303.1 L150.5,303.9 L151.5,304.7 L152.5,305.5 L153.5,306.3 L154.5,307.0 L155.5,307.8 L156.5,308.5 L157.5,309.2 L158.5,309.9 L159.5,310.6 L160.5,311.3 L161.5,311.9 L162.5,312.6 L163.5,313.2 L164.5,313.8 L165.5,314.4 L166.5,315.0 L167.5,315.6 L168.5,316.2 L169.5,316.8 L170.5,317.3 L171.5,317.9 L172.5,318.4 L173.5,318.9 L174.5,319.5 L175.5,320.0 L176.5,320.5 L177.5,321.0 L178.5,321.4 L179.5,321.9 L180.5,322.4 L181.5,322.9 L182.5,323.3 L183.5,323.8 L184.5,324.2 L185.5,324.6 L186.5,325.1 L187.5,325.5 L188.5,325.9 L189.5,326.3 L190.5,326.7 L191.5,327.1 L192.5,327.5 L193.5,327.8 L194.5,328.2 L195.5,328.6 L196.5,328.9 L197.5,329.3 L198.5,329.6 L199.5,330.0 L200.5,330.3 L201.5,330.7 L202.5,331.0 L203.5,331.3 L204.5,331.6 L205.5,332.0 L206.5,332.3 L207.5,332.6 L208.5,332.9 L209.5,333.2 L210.5,333.5 L211.5,333.8 L212.5,334.0 L213.5,334.3 L214.5,334.6 L215.5,334.9 L216.5,335.1 L217.5,335.4 L218.5,335.7 L219.5,335.9 L220.5,336.2 L221.5,336.4 L222.5,336.6 L223.5,336.9 L224.5,337.1 L225.5,337.3 L226.5,337.5 L227.5,337.7 L228.5,338.0 L229.5,338.2 L230.5,338.4 L231.5,338.6 L232.5,338.8 L233.5,338.9 L234.5,339.1 L235.5,339.3 L236.5,339.5 L237.5,339.7 L238.5,339.8 L239.5,340.0 L240.5,340.2 L241.5,340.4 L242.5,340.5 L243.5,340.7 L244.5,340.8 L245.5,341.0 L246.5,341.2 L247.5,341.3 L248.5,341.5 L249.5,341.6 L250.5,341.7 L251.5,341.9 L252.5,342.0 L253.5,342.2 L254.5,342.3 L255.5,342.4 L256.5,342.6 L257.5,342.7 L258.5,342.8 L259.5,342.9 L260.5,343.1 L261.5,343.2 L262.5,343.3 L263.5,343.4 L264.6,355.2 L57.5,355.2 L57.5,-258.5 Z" fill="#000" fill-opacity="0.215"/>
<g clip-path="url(#a4)">
<rect x="165.6" y="313.9" width="100.0" height="25.6" fill="rgb(27,95,5)" fill-opacity="0.5"/>
<rect x="69.7" y="220.5" width="130.4" height="75.9" fill="rgb(90,48,142)" fill-opacity="0.6"/>
</g>
<path d="M58.5,68.7 L59.5,74.8 L60.5,80.8 L61.5,86.6 L62.5,92.3 L63.5,97.8 L64.5,103.3 L65.5,108.6 L66.5,113.8 L67.5,118.9 L68.5,123.9 L69.5,128.7 L70.5,133.5 L71.5,138.1 L72.5,142.7 L73.5,147.1 L74.5,151.4 L75.5,155.7 L76.5,159.8 L77.5,163.8 L78.5,167.7 L79.5,171.6 L80.5,175.4 L81.5,179.1 L82.5,182.7 L83.5,186.2 L84.5,189.7 L85.5,193.0 L86.5,196.3 L87.5,199.5 L88.5,202.6 L89.5,205.7 L90.5,208.6 L91.5,211.5 L92.5,214.3 L93.5,217.0 L94.5,219.6 L95.5,222.1 L96.5,224.6 L97.5,227.0 L98.5,229.3 L99.5,231.6 L100.5,233.8 L101.5,236.0 L102.5,238.1 L103.5,240.2 L104.5,242.2 L105.5,244.2 L106.5,246.1 L107.5,248.0 L108.5,249.9 L109.5,251.8 L110.5,253.6 L111.5,255.4 L112.5,257.2 L113.5,259.0 L114.5,260.7 L115.5,262.4 L116.5,264.0 L117.5,265.6 L118.5,267.2 L119.5,268.8 L120.5,270.3 L121.5,271.8 L122.5,273.3 L123.5,274.7 L124.5,276.2 L125.5,277.5 L126.5,278.9 L127.5,280.2 L128.5,281.5 L129.5,282.7 L130.5,284.0 L131.5,285.2 L132.5,286.4 L133.5,287.5 L134.5,288.6 L135.5,289.8 L136.5,290.8 L137.5,291.9 L138.5,293.0 L139.5,294.0 L140.5,295.0 L141.5,296.0 L142.5,296.9 L143.5,297.9 L144.5,298.8 L145.5,299.7 L146.5,300.6 L147.5,301.4 L148.5,302.3 L149.5,303.1 L150.5,303.9 L151.5,304.7 L152.5,305.5 L153.5,306.3 L154.5,307.0 L155.5,307.8 L156.5,308.5 L157.5,309.2 L158.5,309.9 L159.5,310.6 L160.5,311.3 L161.5,311.9 L162.5,312.6 L163.5,313.2 L164.5,313.8 L165.5,314.4 L166.5,315.0 L167.5,315.6 L168.5,316.2 L169.5,316.8 L170.5,317.3 L171.5,317.9 L172.5,318.4 L173.5,318.9 L174.5,319.5 L175.5,320.0 L176.5,320.5 L177.5,321.0 L178.5,321.4 L179.5,321.9 L180.5,322.4 L181.5,322.9 L182.5,323.3 L183.5,323.8 L184.5,324.2 L185.5,324.6 L186.5,325.1 L187.5,325.5 L188.5,325.9 L189.5,326.3 L190.5,326.7 L191.5,327.1 L192.5,327.5 L193.5,327.8 L194.5,328.2 L195.5,328.6 L196.5,328.9 L197.5,329.3 L198.5,329.6 L199.5,330.0 L200.5,330.3 L201.5,330.7 L202.5,331.0 L203.5,331.3 L204.5,331.6 L205.5,332.0 L206.5,332.3 L207.5,332.6 L208.5,332.9 L209.5,333.2 L210.5,333.5 L211.5,333.8 L212.5,334.0 L213.5,334.3 L214.5,334.6 L215.5,334.9 L216.5,335.1 L217.5,335.4 L218.5,335.7 L219.5,335.9 L220.5,336.2 L221.5,336.4 L222.5,336.6 L223.5,336.9 L224.5,337.1 L225.5,337.3 L226.5,337.5 L227.5,337.7 L228.5,338.0 L229.5,338.2 L230.5,338.4 L231.5,338.6 L232.5,338.8 L233.5,338.9 L234.5,339.1 L235.5,339.3 L236.5,339.5 L237.5,339.7 L238.5,339.8 L239.5,340.0 L240.5,340.2 L241.5,340.4 L242.5,340.5 L243.5,340.7 L244.5,340.8 L245.5,341.0 L246.5,341.2 L247.5,341.3 L248.5,341.5 L249.5,341.6 L250.5,341.7 L251.5,341.9 L252.5,342.0 L253.5,342.2 L254.5,342.3 L255.5,342.4 L256.5,342.6 L257.5,342.7 L258.5,342.8 L259.5,342.9 L260.5,343.1 L261.5,343.2 L262.5,343.3 L263.5,343.4" fill="none" stroke="#000" stroke-width="1.3"/>
<rect x="165.6" y="313.9" width="100.0" height="25.6" fill="none" stroke="rgb(22,138,58)" stroke-width="1"/>
<rect x="69.7" y="220.5" width="130.4" height="75.9" fill="none" stroke="rgb(125,75,175)" stroke-width="1"/>
</g>
<path d="M59.5,350.20h3.2 M262.6,350.20h-3.2 M59.5,342.26h1.9 M262.6,342.26h-1.9 M59.5,334.33h1.9 M262.6,334.33h-1.9 M59.5,326.39h1.9 M262.6,326.39h-1.9 M59.5,318.46h1.9 M262.6,318.46h-1.9 M59.5,310.52h3.2 M262.6,310.52h-3.2 M59.5,302.59h1.9 M262.6,302.59h-1.9 M59.5,294.65h1.9 M262.6,294.65h-1.9 M59.5,286.72h1.9 M262.6,286.72h-1.9 M59.5,278.78h1.9 M262.6,278.78h-1.9 M59.5,270.85h3.2 M262.6,270.85h-3.2 M59.5,262.91h1.9 M262.6,262.91h-1.9 M59.5,254.98h1.9 M262.6,254.98h-1.9 M59.5,247.04h1.9 M262.6,247.04h-1.9 M59.5,239.11h1.9 M262.6,239.11h-1.9 M59.5,231.18h3.2 M262.6,231.18h-3.2 M59.5,223.24h1.9 M262.6,223.24h-1.9 M59.5,215.30h1.9 M262.6,215.30h-1.9 M59.5,207.37h1.9 M262.6,207.37h-1.9 M59.5,199.44h1.9 M262.6,199.44h-1.9 M59.5,191.50h3.2 M262.6,191.50h-3.2 M59.50,350.2v-1.7 M59.50,191.5v1.7 M68.89,350.2v-1.7 M68.89,191.5v1.7 M76.56,350.2v-1.7 M76.56,191.5v1.7 M83.04,350.2v-1.7 M83.04,191.5v1.7 M88.66,350.2v-1.7 M88.66,191.5v1.7 M93.61,350.2v-1.7 M93.61,191.5v1.7 M98.04,350.2v-3.0 M98.04,191.5v3.0 M127.20,350.2v-1.7 M127.20,191.5v1.7 M144.26,350.2v-1.7 M144.26,191.5v1.7 M156.36,350.2v-1.7 M156.36,191.5v1.7 M165.74,350.2v-1.7 M165.74,191.5v1.7 M173.41,350.2v-1.7 M173.41,191.5v1.7 M179.90,350.2v-1.7 M179.90,191.5v1.7 M185.51,350.2v-1.7 M185.51,191.5v1.7 M190.47,350.2v-1.7 M190.47,191.5v1.7 M194.90,350.2v-3.0 M194.90,191.5v3.0 M224.06,350.2v-1.7 M224.06,191.5v1.7 M241.11,350.2v-1.7 M241.11,191.5v1.7 M253.21,350.2v-1.7 M253.21,191.5v1.7 M262.60,350.2v-1.7 M262.60,191.5v1.7" stroke="#1a1a1a" stroke-width="1" fill="none"/>
<rect x="59.5" y="191.5" width="203.1" height="158.7" fill="none" stroke="#2a2a2a" stroke-width="1"/>
<rect x="65.9" y="331.7" width="35.6" height="11.8" rx="2.5" fill="#fff" fill-opacity="0.9" filter="url(#gl)"/>
<text x="67.2" y="342.0" font-family="Liberation Sans, sans-serif" font-size="13.6" textLength="32.6" lengthAdjust="spacingAndGlyphs" fill="#fff" stroke="#fff" stroke-width="1.8" stroke-linejoin="round">Orbit 4</text>
<text x="67.2" y="342.0" font-family="Liberation Sans, sans-serif" font-size="13.6" textLength="32.6" lengthAdjust="spacingAndGlyphs" fill="#111" stroke="#111" stroke-width="0.6">Orbit 4</text>
<clipPath id="c5"><rect x="272.9" y="191.5" width="203.1" height="158.7"/></clipPath>
<clipPath id="a5"><path d="M271.9,66.8 L272.9,73.0 L273.9,79.0 L274.9,84.8 L275.9,90.6 L276.9,96.2 L277.9,101.6 L278.9,107.0 L279.9,112.2 L280.9,117.4 L281.9,122.4 L282.9,127.3 L283.9,132.1 L284.9,136.7 L285.9,141.3 L286.9,145.8 L287.9,150.1 L288.9,154.4 L289.9,158.5 L290.9,162.6 L291.9,166.5 L292.9,170.4 L293.9,174.2 L294.9,177.9 L295.9,181.6 L296.9,185.1 L297.9,188.6 L298.9,192.0 L299.9,195.3 L300.9,198.5 L301.9,201.7 L302.9,204.7 L303.9,207.7 L304.9,210.6 L305.9,213.4 L306.9,216.1 L307.9,218.7 L308.9,221.3 L309.9,223.8 L310.9,226.2 L311.9,228.5 L312.9,230.8 L313.9,233.0 L314.9,235.2 L315.9,237.4 L316.9,239.4 L317.9,241.5 L318.9,243.5 L319.9,245.4 L320.9,247.4 L321.9,249.3 L322.9,251.1 L323.9,253.0 L324.9,254.8 L325.9,256.6 L326.9,258.4 L327.9,260.1 L328.9,261.8 L329.9,263.4 L330.9,265.1 L331.9,266.7 L332.9,268.3 L333.9,269.8 L334.9,271.3 L335.9,272.8 L336.9,274.2 L337.9,275.7 L338.9,277.0 L339.9,278.4 L340.9,279.7 L341.9,281.0 L342.9,282.3 L343.9,283.5 L344.9,284.7 L345.9,285.9 L346.9,287.1 L347.9,288.2 L348.9,289.4 L349.9,290.5 L350.9,291.5 L351.9,292.6 L352.9,293.6 L353.9,294.6 L354.9,295.6 L355.9,296.6 L356.9,297.5 L357.9,298.4 L358.9,299.4 L359.9,300.2 L360.9,301.1 L361.9,302.0 L362.9,302.8 L363.9,303.6 L364.9,304.4 L365.9,305.2 L366.9,306.0 L367.9,306.7 L368.9,307.5 L369.9,308.2 L370.9,308.9 L371.9,309.6 L372.9,310.3 L373.9,311.0 L374.9,311.7 L375.9,312.3 L376.9,312.9 L377.9,313.6 L378.9,314.2 L379.9,314.8 L380.9,315.4 L381.9,316.0 L382.9,316.6 L383.9,317.1 L384.9,317.7 L385.9,318.2 L386.9,318.7 L387.9,319.3 L388.9,319.8 L389.9,320.3 L390.9,320.8 L391.9,321.3 L392.9,321.7 L393.9,322.2 L394.9,322.7 L395.9,323.1 L396.9,323.6 L397.9,324.0 L398.9,324.5 L399.9,324.9 L400.9,325.3 L401.9,325.7 L402.9,326.1 L403.9,326.5 L404.9,326.9 L405.9,327.3 L406.9,327.7 L407.9,328.1 L408.9,328.4 L409.9,328.8 L410.9,329.2 L411.9,329.5 L412.9,329.9 L413.9,330.2 L414.9,330.5 L415.9,330.9 L416.9,331.2 L417.9,331.5 L418.9,331.8 L419.9,332.1 L420.9,332.5 L421.9,332.8 L422.9,333.1 L423.9,333.4 L424.9,333.7 L425.9,333.9 L426.9,334.2 L427.9,334.5 L428.9,334.8 L429.9,335.0 L430.9,335.3 L431.9,335.6 L432.9,335.8 L433.9,336.1 L434.9,336.3 L435.9,336.5 L436.9,336.8 L437.9,337.0 L438.9,337.2 L439.9,337.4 L440.9,337.7 L441.9,337.9 L442.9,338.1 L443.9,338.3 L444.9,338.5 L445.9,338.7 L446.9,338.9 L447.9,339.1 L448.9,339.2 L449.9,339.4 L450.9,339.6 L451.9,339.8 L452.9,340.0 L453.9,340.1 L454.9,340.3 L455.9,340.5 L456.9,340.6 L457.9,340.8 L458.9,340.9 L459.9,341.1 L460.9,341.2 L461.9,341.4 L462.9,341.5 L463.9,341.7 L464.9,341.8 L465.9,342.0 L466.9,342.1 L467.9,342.3 L468.9,342.4 L469.9,342.5 L470.9,342.6 L471.9,342.8 L472.9,342.9 L473.9,343.0 L474.9,343.1 L475.9,343.3 L476.9,343.4 L478.0,-258.5 Z"/></clipPath>
<g clip-path="url(#c5)">
<use href="#gls" transform="translate(272.9,350.2)"/>
<path d="M271.9,66.8 L272.9,73.0 L273.9,79.0 L274.9,84.8 L275.9,90.6 L276.9,96.2 L277.9,101.6 L278.9,107.0 L279.9,112.2 L280.9,117.4 L281.9,122.4 L282.9,127.3 L283.9,132.1 L284.9,136.7 L285.9,141.3 L286.9,145.8 L287.9,150.1 L288.9,154.4 L289.9,158.5 L290.9,162.6 L291.9,166.5 L292.9,170.4 L293.9,174.2 L294.9,177.9 L295.9,181.6 L296.9,185.1 L297.9,188.6 L298.9,192.0 L299.9,195.3 L300.9,198.5 L301.9,201.7 L302.9,204.7 L303.9,207.7 L304.9,210.6 L305.9,213.4 L306.9,216.1 L307.9,218.7 L308.9,221.3 L309.9,223.8 L310.9,226.2 L311.9,228.5 L312.9,230.8 L313.9,233.0 L314.9,235.2 L315.9,237.4 L316.9,239.4 L317.9,241.5 L318.9,243.5 L319.9,245.4 L320.9,247.4 L321.9,249.3 L322.9,251.1 L323.9,253.0 L324.9,254.8 L325.9,256.6 L326.9,258.4 L327.9,260.1 L328.9,261.8 L329.9,263.4 L330.9,265.1 L331.9,266.7 L332.9,268.3 L333.9,269.8 L334.9,271.3 L335.9,272.8 L336.9,274.2 L337.9,275.7 L338.9,277.0 L339.9,278.4 L340.9,279.7 L341.9,281.0 L342.9,282.3 L343.9,283.5 L344.9,284.7 L345.9,285.9 L346.9,287.1 L347.9,288.2 L348.9,289.4 L349.9,290.5 L350.9,291.5 L351.9,292.6 L352.9,293.6 L353.9,294.6 L354.9,295.6 L355.9,296.6 L356.9,297.5 L357.9,298.4 L358.9,299.4 L359.9,300.2 L360.9,301.1 L361.9,302.0 L362.9,302.8 L363.9,303.6 L364.9,304.4 L365.9,305.2 L366.9,306.0 L367.9,306.7 L368.9,307.5 L369.9,308.2 L370.9,308.9 L371.9,309.6 L372.9,310.3 L373.9,311.0 L374.9,311.7 L375.9,312.3 L376.9,312.9 L377.9,313.6 L378.9,314.2 L379.9,314.8 L380.9,315.4 L381.9,316.0 L382.9,316.6 L383.9,317.1 L384.9,317.7 L385.9,318.2 L386.9,318.7 L387.9,319.3 L388.9,319.8 L389.9,320.3 L390.9,320.8 L391.9,321.3 L392.9,321.7 L393.9,322.2 L394.9,322.7 L395.9,323.1 L396.9,323.6 L397.9,324.0 L398.9,324.5 L399.9,324.9 L400.9,325.3 L401.9,325.7 L402.9,326.1 L403.9,326.5 L404.9,326.9 L405.9,327.3 L406.9,327.7 L407.9,328.1 L408.9,328.4 L409.9,328.8 L410.9,329.2 L411.9,329.5 L412.9,329.9 L413.9,330.2 L414.9,330.5 L415.9,330.9 L416.9,331.2 L417.9,331.5 L418.9,331.8 L419.9,332.1 L420.9,332.5 L421.9,332.8 L422.9,333.1 L423.9,333.4 L424.9,333.7 L425.9,333.9 L426.9,334.2 L427.9,334.5 L428.9,334.8 L429.9,335.0 L430.9,335.3 L431.9,335.6 L432.9,335.8 L433.9,336.1 L434.9,336.3 L435.9,336.5 L436.9,336.8 L437.9,337.0 L438.9,337.2 L439.9,337.4 L440.9,337.7 L441.9,337.9 L442.9,338.1 L443.9,338.3 L444.9,338.5 L445.9,338.7 L446.9,338.9 L447.9,339.1 L448.9,339.2 L449.9,339.4 L450.9,339.6 L451.9,339.8 L452.9,340.0 L453.9,340.1 L454.9,340.3 L455.9,340.5 L456.9,340.6 L457.9,340.8 L458.9,340.9 L459.9,341.1 L460.9,341.2 L461.9,341.4 L462.9,341.5 L463.9,341.7 L464.9,341.8 L465.9,342.0 L466.9,342.1 L467.9,342.3 L468.9,342.4 L469.9,342.5 L470.9,342.6 L471.9,342.8 L472.9,342.9 L473.9,343.0 L474.9,343.1 L475.9,343.3 L476.9,343.4 L478.0,355.2 L270.9,355.2 L270.9,-258.5 Z" fill="#000" fill-opacity="0.215"/>
<g clip-path="url(#a5)">
<rect x="379.0" y="313.9" width="100.0" height="24.6" fill="rgb(27,95,5)" fill-opacity="0.5"/>
<rect x="283.1" y="220.5" width="130.4" height="75.9" fill="rgb(90,48,142)" fill-opacity="0.6"/>
</g>
<path d="M271.9,66.8 L272.9,73.0 L273.9,79.0 L274.9,84.8 L275.9,90.6 L276.9,96.2 L277.9,101.6 L278.9,107.0 L279.9,112.2 L280.9,117.4 L281.9,122.4 L282.9,127.3 L283.9,132.1 L284.9,136.7 L285.9,141.3 L286.9,145.8 L287.9,150.1 L288.9,154.4 L289.9,158.5 L290.9,162.6 L291.9,166.5 L292.9,170.4 L293.9,174.2 L294.9,177.9 L295.9,181.6 L296.9,185.1 L297.9,188.6 L298.9,192.0 L299.9,195.3 L300.9,198.5 L301.9,201.7 L302.9,204.7 L303.9,207.7 L304.9,210.6 L305.9,213.4 L306.9,216.1 L307.9,218.7 L308.9,221.3 L309.9,223.8 L310.9,226.2 L311.9,228.5 L312.9,230.8 L313.9,233.0 L314.9,235.2 L315.9,237.4 L316.9,239.4 L317.9,241.5 L318.9,243.5 L319.9,245.4 L320.9,247.4 L321.9,249.3 L322.9,251.1 L323.9,253.0 L324.9,254.8 L325.9,256.6 L326.9,258.4 L327.9,260.1 L328.9,261.8 L329.9,263.4 L330.9,265.1 L331.9,266.7 L332.9,268.3 L333.9,269.8 L334.9,271.3 L335.9,272.8 L336.9,274.2 L337.9,275.7 L338.9,277.0 L339.9,278.4 L340.9,279.7 L341.9,281.0 L342.9,282.3 L343.9,283.5 L344.9,284.7 L345.9,285.9 L346.9,287.1 L347.9,288.2 L348.9,289.4 L349.9,290.5 L350.9,291.5 L351.9,292.6 L352.9,293.6 L353.9,294.6 L354.9,295.6 L355.9,296.6 L356.9,297.5 L357.9,298.4 L358.9,299.4 L359.9,300.2 L360.9,301.1 L361.9,302.0 L362.9,302.8 L363.9,303.6 L364.9,304.4 L365.9,305.2 L366.9,306.0 L367.9,306.7 L368.9,307.5 L369.9,308.2 L370.9,308.9 L371.9,309.6 L372.9,310.3 L373.9,311.0 L374.9,311.7 L375.9,312.3 L376.9,312.9 L377.9,313.6 L378.9,314.2 L379.9,314.8 L380.9,315.4 L381.9,316.0 L382.9,316.6 L383.9,317.1 L384.9,317.7 L385.9,318.2 L386.9,318.7 L387.9,319.3 L388.9,319.8 L389.9,320.3 L390.9,320.8 L391.9,321.3 L392.9,321.7 L393.9,322.2 L394.9,322.7 L395.9,323.1 L396.9,323.6 L397.9,324.0 L398.9,324.5 L399.9,324.9 L400.9,325.3 L401.9,325.7 L402.9,326.1 L403.9,326.5 L404.9,326.9 L405.9,327.3 L406.9,327.7 L407.9,328.1 L408.9,328.4 L409.9,328.8 L410.9,329.2 L411.9,329.5 L412.9,329.9 L413.9,330.2 L414.9,330.5 L415.9,330.9 L416.9,331.2 L417.9,331.5 L418.9,331.8 L419.9,332.1 L420.9,332.5 L421.9,332.8 L422.9,333.1 L423.9,333.4 L424.9,333.7 L425.9,333.9 L426.9,334.2 L427.9,334.5 L428.9,334.8 L429.9,335.0 L430.9,335.3 L431.9,335.6 L432.9,335.8 L433.9,336.1 L434.9,336.3 L435.9,336.5 L436.9,336.8 L437.9,337.0 L438.9,337.2 L439.9,337.4 L440.9,337.7 L441.9,337.9 L442.9,338.1 L443.9,338.3 L444.9,338.5 L445.9,338.7 L446.9,338.9 L447.9,339.1 L448.9,339.2 L449.9,339.4 L450.9,339.6 L451.9,339.8 L452.9,340.0 L453.9,340.1 L454.9,340.3 L455.9,340.5 L456.9,340.6 L457.9,340.8 L458.9,340.9 L459.9,341.1 L460.9,341.2 L461.9,341.4 L462.9,341.5 L463.9,341.7 L464.9,341.8 L465.9,342.0 L466.9,342.1 L467.9,342.3 L468.9,342.4 L469.9,342.5 L470.9,342.6 L471.9,342.8 L472.9,342.9 L473.9,343.0 L474.9,343.1 L475.9,343.3 L476.9,343.4" fill="none" stroke="#000" stroke-width="1.3"/>
<rect x="379.0" y="313.9" width="100.0" height="24.6" fill="none" stroke="rgb(22,138,58)" stroke-width="1"/>
<rect x="283.1" y="220.5" width="130.4" height="75.9" fill="none" stroke="rgb(125,75,175)" stroke-width="1"/>
</g>
<path d="M272.9,350.20h3.2 M476.0,350.20h-3.2 M272.9,342.26h1.9 M476.0,342.26h-1.9 M272.9,334.33h1.9 M476.0,334.33h-1.9 M272.9,326.39h1.9 M476.0,326.39h-1.9 M272.9,318.46h1.9 M476.0,318.46h-1.9 M272.9,310.52h3.2 M476.0,310.52h-3.2 M272.9,302.59h1.9 M476.0,302.59h-1.9 M272.9,294.65h1.9 M476.0,294.65h-1.9 M272.9,286.72h1.9 M476.0,286.72h-1.9 M272.9,278.78h1.9 M476.0,278.78h-1.9 M272.9,270.85h3.2 M476.0,270.85h-3.2 M272.9,262.91h1.9 M476.0,262.91h-1.9 M272.9,254.98h1.9 M476.0,254.98h-1.9 M272.9,247.04h1.9 M476.0,247.04h-1.9 M272.9,239.11h1.9 M476.0,239.11h-1.9 M272.9,231.18h3.2 M476.0,231.18h-3.2 M272.9,223.24h1.9 M476.0,223.24h-1.9 M272.9,215.30h1.9 M476.0,215.30h-1.9 M272.9,207.37h1.9 M476.0,207.37h-1.9 M272.9,199.44h1.9 M476.0,199.44h-1.9 M272.9,191.50h3.2 M476.0,191.50h-3.2 M272.90,350.2v-1.7 M272.90,191.5v1.7 M282.29,350.2v-1.7 M282.29,191.5v1.7 M289.96,350.2v-1.7 M289.96,191.5v1.7 M296.44,350.2v-1.7 M296.44,191.5v1.7 M302.06,350.2v-1.7 M302.06,191.5v1.7 M307.01,350.2v-1.7 M307.01,191.5v1.7 M311.44,350.2v-3.0 M311.44,191.5v3.0 M340.60,350.2v-1.7 M340.60,191.5v1.7 M357.66,350.2v-1.7 M357.66,191.5v1.7 M369.76,350.2v-1.7 M369.76,191.5v1.7 M379.14,350.2v-1.7 M379.14,191.5v1.7 M386.81,350.2v-1.7 M386.81,191.5v1.7 M393.30,350.2v-1.7 M393.30,191.5v1.7 M398.91,350.2v-1.7 M398.91,191.5v1.7 M403.87,350.2v-1.7 M403.87,191.5v1.7 M408.30,350.2v-3.0 M408.30,191.5v3.0 M437.46,350.2v-1.7 M437.46,191.5v1.7 M454.51,350.2v-1.7 M454.51,191.5v1.7 M466.61,350.2v-1.7 M466.61,191.5v1.7 M476.00,350.2v-1.7 M476.00,191.5v1.7" stroke="#1a1a1a" stroke-width="1" fill="none"/>
<rect x="272.9" y="191.5" width="203.1" height="158.7" fill="none" stroke="#2a2a2a" stroke-width="1"/>
<rect x="279.3" y="331.7" width="35.6" height="11.8" rx="2.5" fill="#fff" fill-opacity="0.9" filter="url(#gl)"/>
<text x="280.6" y="342.0" font-family="Liberation Sans, sans-serif" font-size="13.6" textLength="32.6" lengthAdjust="spacingAndGlyphs" fill="#fff" stroke="#fff" stroke-width="1.8" stroke-linejoin="round">Orbit 5</text>
<text x="280.6" y="342.0" font-family="Liberation Sans, sans-serif" font-size="13.6" textLength="32.6" lengthAdjust="spacingAndGlyphs" fill="#111" stroke="#111" stroke-width="0.6">Orbit 5</text>
<clipPath id="c6"><rect x="486.6" y="191.5" width="203.1" height="158.7"/></clipPath>
<clipPath id="a6"><path d="M485.6,7.3 L486.6,14.7 L487.6,22.0 L488.6,29.1 L489.6,36.0 L490.6,42.8 L491.6,49.4 L492.6,55.9 L493.6,62.2 L494.6,68.4 L495.6,74.5 L496.6,80.4 L497.6,86.2 L498.6,91.9 L499.6,97.4 L500.6,102.8 L501.6,108.1 L502.6,113.2 L503.6,118.2 L504.6,123.1 L505.6,127.9 L506.6,132.6 L507.6,137.2 L508.6,141.7 L509.6,146.1 L510.6,150.4 L511.6,154.6 L512.6,158.7 L513.6,162.7 L514.6,166.6 L515.6,170.4 L516.6,174.1 L517.6,177.7 L518.6,181.2 L519.6,184.6 L520.6,187.9 L521.6,191.1 L522.6,194.2 L523.6,197.2 L524.6,200.1 L525.6,202.9 L526.6,205.7 L527.6,208.4 L528.6,211.1 L529.6,213.6 L530.6,216.2 L531.6,218.6 L532.6,221.0 L533.6,223.4 L534.6,225.8 L535.6,228.1 L536.6,230.3 L537.6,232.5 L538.6,234.7 L539.6,236.9 L540.6,239.0 L541.6,241.1 L542.6,243.2 L543.6,245.2 L544.6,247.2 L545.6,249.1 L546.6,251.0 L547.6,252.9 L548.6,254.7 L549.6,256.5 L550.6,258.3 L551.6,260.0 L552.6,261.7 L553.6,263.3 L554.6,264.9 L555.6,266.5 L556.6,268.0 L557.6,269.5 L558.6,271.0 L559.6,272.4 L560.6,273.8 L561.6,275.2 L562.6,276.6 L563.6,277.9 L564.6,279.2 L565.6,280.5 L566.6,281.7 L567.6,282.9 L568.6,284.1 L569.6,285.3 L570.6,286.4 L571.6,287.6 L572.6,288.7 L573.6,289.7 L574.6,290.8 L575.6,291.8 L576.6,292.8 L577.6,293.8 L578.6,294.8 L579.6,295.8 L580.6,296.7 L581.6,297.6 L582.6,298.5 L583.6,299.4 L584.6,300.3 L585.6,301.1 L586.6,301.9 L587.6,302.8 L588.6,303.6 L589.6,304.3 L590.6,305.1 L591.6,305.9 L592.6,306.6 L593.6,307.4 L594.6,308.1 L595.6,308.8 L596.6,309.5 L597.6,310.2 L598.6,310.8 L599.6,311.5 L600.6,312.1 L601.6,312.8 L602.6,313.4 L603.6,314.0 L604.6,314.6 L605.6,315.2 L606.6,315.8 L607.6,316.3 L608.6,316.9 L609.6,317.4 L610.6,318.0 L611.6,318.5 L612.6,319.1 L613.6,319.6 L614.6,320.1 L615.6,320.6 L616.6,321.1 L617.6,321.6 L618.6,322.0 L619.6,322.5 L620.6,323.0 L621.6,323.4 L622.6,323.9 L623.6,324.3 L624.6,324.7 L625.6,325.2 L626.6,325.6 L627.6,326.0 L628.6,326.4 L629.6,326.8 L630.6,327.2 L631.6,327.6 L632.6,328.0 L633.6,328.4 L634.6,328.7 L635.6,329.1 L636.6,329.5 L637.6,329.8 L638.6,330.2 L639.6,330.5 L640.6,330.9 L641.6,331.2 L642.6,331.5 L643.6,331.9 L644.6,332.2 L645.6,332.5 L646.6,332.8 L647.6,333.1 L648.6,333.4 L649.6,333.7 L650.6,334.0 L651.6,334.2 L652.6,334.5 L653.6,334.8 L654.6,335.0 L655.6,335.3 L656.6,335.5 L657.6,335.8 L658.6,336.0 L659.6,336.3 L660.6,336.5 L661.6,336.7 L662.6,336.9 L663.6,337.2 L664.6,337.4 L665.6,337.6 L666.6,337.8 L667.6,338.0 L668.6,338.2 L669.6,338.4 L670.6,338.6 L671.6,338.8 L672.6,339.0 L673.6,339.2 L674.6,339.4 L675.6,339.5 L676.6,339.7 L677.6,339.9 L678.6,340.1 L679.6,340.2 L680.6,340.4 L681.6,340.6 L682.6,340.7 L683.6,340.9 L684.6,341.1 L685.6,341.2 L686.6,341.4 L687.6,341.5 L688.6,341.7 L689.6,341.8 L690.6,341.9 L691.7,-258.5 Z"/></clipPath>
<g clip-path="url(#c6)">
<use href="#gls" transform="translate(486.6,350.2)"/>
<path d="M485.6,7.3 L486.6,14.7 L487.6,22.0 L488.6,29.1 L489.6,36.0 L490.6,42.8 L491.6,49.4 L492.6,55.9 L493.6,62.2 L494.6,68.4 L495.6,74.5 L496.6,80.4 L497.6,86.2 L498.6,91.9 L499.6,97.4 L500.6,102.8 L501.6,108.1 L502.6,113.2 L503.6,118.2 L504.6,123.1 L505.6,127.9 L506.6,132.6 L507.6,137.2 L508.6,141.7 L509.6,146.1 L510.6,150.4 L511.6,154.6 L512.6,158.7 L513.6,162.7 L514.6,166.6 L515.6,170.4 L516.6,174.1 L517.6,177.7 L518.6,181.2 L519.6,184.6 L520.6,187.9 L521.6,191.1 L522.6,194.2 L523.6,197.2 L524.6,200.1 L525.6,202.9 L526.6,205.7 L527.6,208.4 L528.6,211.1 L529.6,213.6 L530.6,216.2 L531.6,218.6 L532.6,221.0 L533.6,223.4 L534.6,225.8 L535.6,228.1 L536.6,230.3 L537.6,232.5 L538.6,234.7 L539.6,236.9 L540.6,239.0 L541.6,241.1 L542.6,243.2 L543.6,245.2 L544.6,247.2 L545.6,249.1 L546.6,251.0 L547.6,252.9 L548.6,254.7 L549.6,256.5 L550.6,258.3 L551.6,260.0 L552.6,261.7 L553.6,263.3 L554.6,264.9 L555.6,266.5 L556.6,268.0 L557.6,269.5 L558.6,271.0 L559.6,272.4 L560.6,273.8 L561.6,275.2 L562.6,276.6 L563.6,277.9 L564.6,279.2 L565.6,280.5 L566.6,281.7 L567.6,282.9 L568.6,284.1 L569.6,285.3 L570.6,286.4 L571.6,287.6 L572.6,288.7 L573.6,289.7 L574.6,290.8 L575.6,291.8 L576.6,292.8 L577.6,293.8 L578.6,294.8 L579.6,295.8 L580.6,296.7 L581.6,297.6 L582.6,298.5 L583.6,299.4 L584.6,300.3 L585.6,301.1 L586.6,301.9 L587.6,302.8 L588.6,303.6 L589.6,304.3 L590.6,305.1 L591.6,305.9 L592.6,306.6 L593.6,307.4 L594.6,308.1 L595.6,308.8 L596.6,309.5 L597.6,310.2 L598.6,310.8 L599.6,311.5 L600.6,312.1 L601.6,312.8 L602.6,313.4 L603.6,314.0 L604.6,314.6 L605.6,315.2 L606.6,315.8 L607.6,316.3 L608.6,316.9 L609.6,317.4 L610.6,318.0 L611.6,318.5 L612.6,319.1 L613.6,319.6 L614.6,320.1 L615.6,320.6 L616.6,321.1 L617.6,321.6 L618.6,322.0 L619.6,322.5 L620.6,323.0 L621.6,323.4 L622.6,323.9 L623.6,324.3 L624.6,324.7 L625.6,325.2 L626.6,325.6 L627.6,326.0 L628.6,326.4 L629.6,326.8 L630.6,327.2 L631.6,327.6 L632.6,328.0 L633.6,328.4 L634.6,328.7 L635.6,329.1 L636.6,329.5 L637.6,329.8 L638.6,330.2 L639.6,330.5 L640.6,330.9 L641.6,331.2 L642.6,331.5 L643.6,331.9 L644.6,332.2 L645.6,332.5 L646.6,332.8 L647.6,333.1 L648.6,333.4 L649.6,333.7 L650.6,334.0 L651.6,334.2 L652.6,334.5 L653.6,334.8 L654.6,335.0 L655.6,335.3 L656.6,335.5 L657.6,335.8 L658.6,336.0 L659.6,336.3 L660.6,336.5 L661.6,336.7 L662.6,336.9 L663.6,337.2 L664.6,337.4 L665.6,337.6 L666.6,337.8 L667.6,338.0 L668.6,338.2 L669.6,338.4 L670.6,338.6 L671.6,338.8 L672.6,339.0 L673.6,339.2 L674.6,339.4 L675.6,339.5 L676.6,339.7 L677.6,339.9 L678.6,340.1 L679.6,340.2 L680.6,340.4 L681.6,340.6 L682.6,340.7 L683.6,340.9 L684.6,341.1 L685.6,341.2 L686.6,341.4 L687.6,341.5 L688.6,341.7 L689.6,341.8 L690.6,341.9 L691.7,355.2 L484.6,355.2 L484.6,-258.5 Z" fill="#000" fill-opacity="0.215"/>
<g clip-path="url(#a6)">
<rect x="592.7" y="305.4" width="100.0" height="30.9" fill="rgb(27,95,5)" fill-opacity="0.5"/>
<rect x="496.8" y="216.9" width="130.4" height="93.8" fill="rgb(90,48,142)" fill-opacity="0.6"/>
</g>
<path d="M485.6,7.3 L486.6,14.7 L487.6,22.0 L488.6,29.1 L489.6,36.0 L490.6,42.8 L491.6,49.4 L492.6,55.9 L493.6,62.2 L494.6,68.4 L495.6,74.5 L496.6,80.4 L497.6,86.2 L498.6,91.9 L499.6,97.4 L500.6,102.8 L501.6,108.1 L502.6,113.2 L503.6,118.2 L504.6,123.1 L505.6,127.9 L506.6,132.6 L507.6,137.2 L508.6,141.7 L509.6,146.1 L510.6,150.4 L511.6,154.6 L512.6,158.7 L513.6,162.7 L514.6,166.6 L515.6,170.4 L516.6,174.1 L517.6,177.7 L518.6,181.2 L519.6,184.6 L520.6,187.9 L521.6,191.1 L522.6,194.2 L523.6,197.2 L524.6,200.1 L525.6,202.9 L526.6,205.7 L527.6,208.4 L528.6,211.1 L529.6,213.6 L530.6,216.2 L531.6,218.6 L532.6,221.0 L533.6,223.4 L534.6,225.8 L535.6,228.1 L536.6,230.3 L537.6,232.5 L538.6,234.7 L539.6,236.9 L540.6,239.0 L541.6,241.1 L542.6,243.2 L543.6,245.2 L544.6,247.2 L545.6,249.1 L546.6,251.0 L547.6,252.9 L548.6,254.7 L549.6,256.5 L550.6,258.3 L551.6,260.0 L552.6,261.7 L553.6,263.3 L554.6,264.9 L555.6,266.5 L556.6,268.0 L557.6,269.5 L558.6,271.0 L559.6,272.4 L560.6,273.8 L561.6,275.2 L562.6,276.6 L563.6,277.9 L564.6,279.2 L565.6,280.5 L566.6,281.7 L567.6,282.9 L568.6,284.1 L569.6,285.3 L570.6,286.4 L571.6,287.6 L572.6,288.7 L573.6,289.7 L574.6,290.8 L575.6,291.8 L576.6,292.8 L577.6,293.8 L578.6,294.8 L579.6,295.8 L580.6,296.7 L581.6,297.6 L582.6,298.5 L583.6,299.4 L584.6,300.3 L585.6,301.1 L586.6,301.9 L587.6,302.8 L588.6,303.6 L589.6,304.3 L590.6,305.1 L591.6,305.9 L592.6,306.6 L593.6,307.4 L594.6,308.1 L595.6,308.8 L596.6,309.5 L597.6,310.2 L598.6,310.8 L599.6,311.5 L600.6,312.1 L601.6,312.8 L602.6,313.4 L603.6,314.0 L604.6,314.6 L605.6,315.2 L606.6,315.8 L607.6,316.3 L608.6,316.9 L609.6,317.4 L610.6,318.0 L611.6,318.5 L612.6,319.1 L613.6,319.6 L614.6,320.1 L615.6,320.6 L616.6,321.1 L617.6,321.6 L618.6,322.0 L619.6,322.5 L620.6,323.0 L621.6,323.4 L622.6,323.9 L623.6,324.3 L624.6,324.7 L625.6,325.2 L626.6,325.6 L627.6,326.0 L628.6,326.4 L629.6,326.8 L630.6,327.2 L631.6,327.6 L632.6,328.0 L633.6,328.4 L634.6,328.7 L635.6,329.1 L636.6,329.5 L637.6,329.8 L638.6,330.2 L639.6,330.5 L640.6,330.9 L641.6,331.2 L642.6,331.5 L643.6,331.9 L644.6,332.2 L645.6,332.5 L646.6,332.8 L647.6,333.1 L648.6,333.4 L649.6,333.7 L650.6,334.0 L651.6,334.2 L652.6,334.5 L653.6,334.8 L654.6,335.0 L655.6,335.3 L656.6,335.5 L657.6,335.8 L658.6,336.0 L659.6,336.3 L660.6,336.5 L661.6,336.7 L662.6,336.9 L663.6,337.2 L664.6,337.4 L665.6,337.6 L666.6,337.8 L667.6,338.0 L668.6,338.2 L669.6,338.4 L670.6,338.6 L671.6,338.8 L672.6,339.0 L673.6,339.2 L674.6,339.4 L675.6,339.5 L676.6,339.7 L677.6,339.9 L678.6,340.1 L679.6,340.2 L680.6,340.4 L681.6,340.6 L682.6,340.7 L683.6,340.9 L684.6,341.1 L685.6,341.2 L686.6,341.4 L687.6,341.5 L688.6,341.7 L689.6,341.8 L690.6,341.9" fill="none" stroke="#000" stroke-width="1.3"/>
<rect x="592.7" y="305.4" width="100.0" height="30.9" fill="none" stroke="rgb(22,138,58)" stroke-width="1"/>
<rect x="496.8" y="216.9" width="130.4" height="93.8" fill="none" stroke="rgb(125,75,175)" stroke-width="1"/>
</g>
<path d="M486.6,350.20h3.2 M689.7,350.20h-3.2 M486.6,342.26h1.9 M689.7,342.26h-1.9 M486.6,334.33h1.9 M689.7,334.33h-1.9 M486.6,326.39h1.9 M689.7,326.39h-1.9 M486.6,318.46h1.9 M689.7,318.46h-1.9 M486.6,310.52h3.2 M689.7,310.52h-3.2 M486.6,302.59h1.9 M689.7,302.59h-1.9 M486.6,294.65h1.9 M689.7,294.65h-1.9 M486.6,286.72h1.9 M689.7,286.72h-1.9 M486.6,278.78h1.9 M689.7,278.78h-1.9 M486.6,270.85h3.2 M689.7,270.85h-3.2 M486.6,262.91h1.9 M689.7,262.91h-1.9 M486.6,254.98h1.9 M689.7,254.98h-1.9 M486.6,247.04h1.9 M689.7,247.04h-1.9 M486.6,239.11h1.9 M689.7,239.11h-1.9 M486.6,231.18h3.2 M689.7,231.18h-3.2 M486.6,223.24h1.9 M689.7,223.24h-1.9 M486.6,215.30h1.9 M689.7,215.30h-1.9 M486.6,207.37h1.9 M689.7,207.37h-1.9 M486.6,199.44h1.9 M689.7,199.44h-1.9 M486.6,191.50h3.2 M689.7,191.50h-3.2 M486.60,350.2v-1.7 M486.60,191.5v1.7 M495.99,350.2v-1.7 M495.99,191.5v1.7 M503.66,350.2v-1.7 M503.66,191.5v1.7 M510.14,350.2v-1.7 M510.14,191.5v1.7 M515.76,350.2v-1.7 M515.76,191.5v1.7 M520.71,350.2v-1.7 M520.71,191.5v1.7 M525.14,350.2v-3.0 M525.14,191.5v3.0 M554.30,350.2v-1.7 M554.30,191.5v1.7 M571.36,350.2v-1.7 M571.36,191.5v1.7 M583.46,350.2v-1.7 M583.46,191.5v1.7 M592.84,350.2v-1.7 M592.84,191.5v1.7 M600.51,350.2v-1.7 M600.51,191.5v1.7 M607.00,350.2v-1.7 M607.00,191.5v1.7 M612.61,350.2v-1.7 M612.61,191.5v1.7 M617.57,350.2v-1.7 M617.57,191.5v1.7 M622.00,350.2v-3.0 M622.00,191.5v3.0 M651.16,350.2v-1.7 M651.16,191.5v1.7 M668.21,350.2v-1.7 M668.21,191.5v1.7 M680.31,350.2v-1.7 M680.31,191.5v1.7 M689.70,350.2v-1.7 M689.70,191.5v1.7" stroke="#1a1a1a" stroke-width="1" fill="none"/>
<rect x="486.6" y="191.5" width="203.1" height="158.7" fill="none" stroke="#2a2a2a" stroke-width="1"/>
<rect x="493.0" y="331.7" width="35.6" height="11.8" rx="2.5" fill="#fff" fill-opacity="0.9" filter="url(#gl)"/>
<text x="494.3" y="342.0" font-family="Liberation Sans, sans-serif" font-size="13.6" textLength="32.6" lengthAdjust="spacingAndGlyphs" fill="#fff" stroke="#fff" stroke-width="1.8" stroke-linejoin="round">Orbit 6</text>
<text x="494.3" y="342.0" font-family="Liberation Sans, sans-serif" font-size="13.6" textLength="32.6" lengthAdjust="spacingAndGlyphs" fill="#111" stroke="#111" stroke-width="0.6">Orbit 6</text>
<text x="33.6" y="27.0" font-family="Liberation Sans, sans-serif" font-size="15.4" textLength="22.4" lengthAdjust="spacingAndGlyphs" fill="#111" stroke="#111" stroke-width="0.65">200</text>
<text x="33.6" y="66.1" font-family="Liberation Sans, sans-serif" font-size="15.4" textLength="22.4" lengthAdjust="spacingAndGlyphs" fill="#111" stroke="#111" stroke-width="0.65">150</text>
<text x="33.9" y="105.9" font-family="Liberation Sans, sans-serif" font-size="15.4" textLength="22.1" lengthAdjust="spacingAndGlyphs" fill="#111" stroke="#111" stroke-width="0.65">100</text>
<text x="41.0" y="145.6" font-family="Liberation Sans, sans-serif" font-size="15.4" textLength="15.0" lengthAdjust="spacingAndGlyphs" fill="#111" stroke="#111" stroke-width="0.65">50</text>
<text x="48.7" y="181.3" font-family="Liberation Sans, sans-serif" font-size="15.4" textLength="7.3" lengthAdjust="spacingAndGlyphs" fill="#111" stroke="#111" stroke-width="0.65">0</text>
<text transform="translate(17.7,164.2) rotate(-90)" font-family="Liberation Sans, sans-serif" font-size="15.4" textLength="128" lengthAdjust="spacingAndGlyphs" fill="#111" stroke="#111" stroke-width="0.65">Impact Speed (km s<tspan font-size="9.3" dy="-5.5">-1</tspan><tspan dy="5.5">)</tspan></text>
<text x="33.6" y="201.4" font-family="Liberation Sans, sans-serif" font-size="15.4" textLength="22.4" lengthAdjust="spacingAndGlyphs" fill="#111" stroke="#111" stroke-width="0.65">200</text>
<text x="33.6" y="237.1" font-family="Liberation Sans, sans-serif" font-size="15.4" textLength="22.4" lengthAdjust="spacingAndGlyphs" fill="#111" stroke="#111" stroke-width="0.65">150</text>
<text x="33.9" y="276.8" font-family="Liberation Sans, sans-serif" font-size="15.4" textLength="22.1" lengthAdjust="spacingAndGlyphs" fill="#111" stroke="#111" stroke-width="0.65">100</text>
<text x="41.0" y="316.4" font-family="Liberation Sans, sans-serif" font-size="15.4" textLength="15.0" lengthAdjust="spacingAndGlyphs" fill="#111" stroke="#111" stroke-width="0.65">50</text>
<text x="48.7" y="356.1" font-family="Liberation Sans, sans-serif" font-size="15.4" textLength="7.3" lengthAdjust="spacingAndGlyphs" fill="#111" stroke="#111" stroke-width="0.65">0</text>
<text transform="translate(17.7,335.4) rotate(-90)" font-family="Liberation Sans, sans-serif" font-size="15.4" textLength="128" lengthAdjust="spacingAndGlyphs" fill="#111" stroke="#111" stroke-width="0.65">Impact Speed (km s<tspan font-size="9.3" dy="-5.5">-1</tspan><tspan dy="5.5">)</tspan></text>
<text x="89.8" y="364.4" font-family="Liberation Sans, sans-serif" font-size="15.4" textLength="17.2" lengthAdjust="spacingAndGlyphs" fill="#111" stroke="#111" stroke-width="0.65">0.1</text>
<text x="191.6" y="364.4" font-family="Liberation Sans, sans-serif" font-size="15.4" textLength="6" lengthAdjust="spacingAndGlyphs" fill="#111" stroke="#111" stroke-width="0.65">1</text>
<text x="109.3" y="385.5" font-family="Liberation Sans, sans-serif" font-size="15.4" textLength="102.9" lengthAdjust="spacingAndGlyphs" fill="#111" stroke="#111" stroke-width="0.65">Grain Radius (µm)</text>
<text x="303.2" y="364.4" font-family="Liberation Sans, sans-serif" font-size="15.4" textLength="17.2" lengthAdjust="spacingAndGlyphs" fill="#111" stroke="#111" stroke-width="0.65">0.1</text>
<text x="405.0" y="364.4" font-family="Liberation Sans, sans-serif" font-size="15.4" textLength="6" lengthAdjust="spacingAndGlyphs" fill="#111" stroke="#111" stroke-width="0.65">1</text>
<text x="322.7" y="385.5" font-family="Liberation Sans, sans-serif" font-size="15.4" textLength="102.9" lengthAdjust="spacingAndGlyphs" fill="#111" stroke="#111" stroke-width="0.65">Grain Radius (µm)</text>
<text x="516.9" y="364.4" font-family="Liberation Sans, sans-serif" font-size="15.4" textLength="17.2" lengthAdjust="spacingAndGlyphs" fill="#111" stroke="#111" stroke-width="0.65">0.1</text>
<text x="618.7" y="364.4" font-family="Liberation Sans, sans-serif" font-size="15.4" textLength="6" lengthAdjust="spacingAndGlyphs" fill="#111" stroke="#111" stroke-width="0.65">1</text>
<text x="536.4" y="385.5" font-family="Liberation Sans, sans-serif" font-size="15.4" textLength="102.9" lengthAdjust="spacingAndGlyphs" fill="#111" stroke="#111" stroke-width="0.65">Grain Radius (µm)</text>
<text x="93.9" y="47.9" font-family="Liberation Sans, sans-serif" font-size="10" textLength="36.6" lengthAdjust="spacingAndGlyphs" fill="rgb(103,58,160)" stroke="rgb(103,58,160)" stroke-width="0.4">Detectable</text>
<text x="133.0" y="47.9" font-family="Liberation Serif, serif" font-style="italic" font-size="10.5" textLength="7" lengthAdjust="spacingAndGlyphs" fill="rgb(103,58,160)" stroke="rgb(103,58,160)" stroke-width="0.3">β</text>
<text x="142.0" y="47.9" font-family="Liberation Sans, sans-serif" font-size="10" textLength="44.3" lengthAdjust="spacingAndGlyphs" fill="rgb(103,58,160)" stroke="rgb(103,58,160)" stroke-width="0.4">-meteoroids</text>
<text x="165.7" y="145.1" font-family="Liberation Sans, sans-serif" font-size="10" textLength="36.0" lengthAdjust="spacingAndGlyphs" fill="rgb(40,135,50)" stroke="rgb(40,135,50)" stroke-width="0.4">Detectable</text>
<text x="206.6" y="145.1" font-family="Liberation Serif, serif" font-style="italic" font-size="10.5" textLength="6.4" lengthAdjust="spacingAndGlyphs" fill="rgb(40,135,50)" stroke="rgb(40,135,50)" stroke-width="0.3">α</text>
<text x="214.1" y="145.1" font-family="Liberation Sans, sans-serif" font-size="10" textLength="43.6" lengthAdjust="spacingAndGlyphs" fill="rgb(40,135,50)" stroke="rgb(40,135,50)" stroke-width="0.4">-meteoroids</text>
<text x="64.5" y="135.7" font-family="Liberation Sans, sans-serif" font-size="9.6" font-style="italic" textLength="60" lengthAdjust="spacingAndGlyphs" fill="#707070" stroke="#707070" stroke-width="0.35">Below detection</text>
<text x="77.2" y="148.0" font-family="Liberation Sans, sans-serif" font-size="9.6" font-style="italic" textLength="35.4" lengthAdjust="spacingAndGlyphs" fill="#707070" stroke="#707070" stroke-width="0.35">threshold</text>
<text x="135.6" y="131.5" font-family="Liberation Sans, sans-serif" font-size="10.7" textLength="5.9" lengthAdjust="spacingAndGlyphs" fill="#111" stroke="#111" stroke-width="0.65">Q</text>
<path d="M136.2,122.6 q1.2,-1.4 2.5,-0.3 t2.6,-0.5" fill="none" stroke="#111" stroke-width="1.0"/>
<text x="141.5" y="135.4" font-family="Liberation Sans, sans-serif" font-size="7" font-weight="bold" textLength="2.8" lengthAdjust="spacingAndGlyphs" fill="#111" stroke="#111" stroke-width="0.65">c</text>
<g transform="translate(211.9,23.4) rotate(68)"><text x="0" y="0" font-family="Liberation Sans, sans-serif" font-size="10.8" textLength="44" lengthAdjust="spacingAndGlyphs" fill="#484848" stroke="#484848" stroke-width="0.25">Q<tspan font-size="6.3" dy="2.6">imp</tspan><tspan dy="-2.6" font-size="10.8"> ∝ mv</tspan><tspan font-size="6.3" dy="-4.2">3.5</tspan></text></g>
</svg>
</body></html>
